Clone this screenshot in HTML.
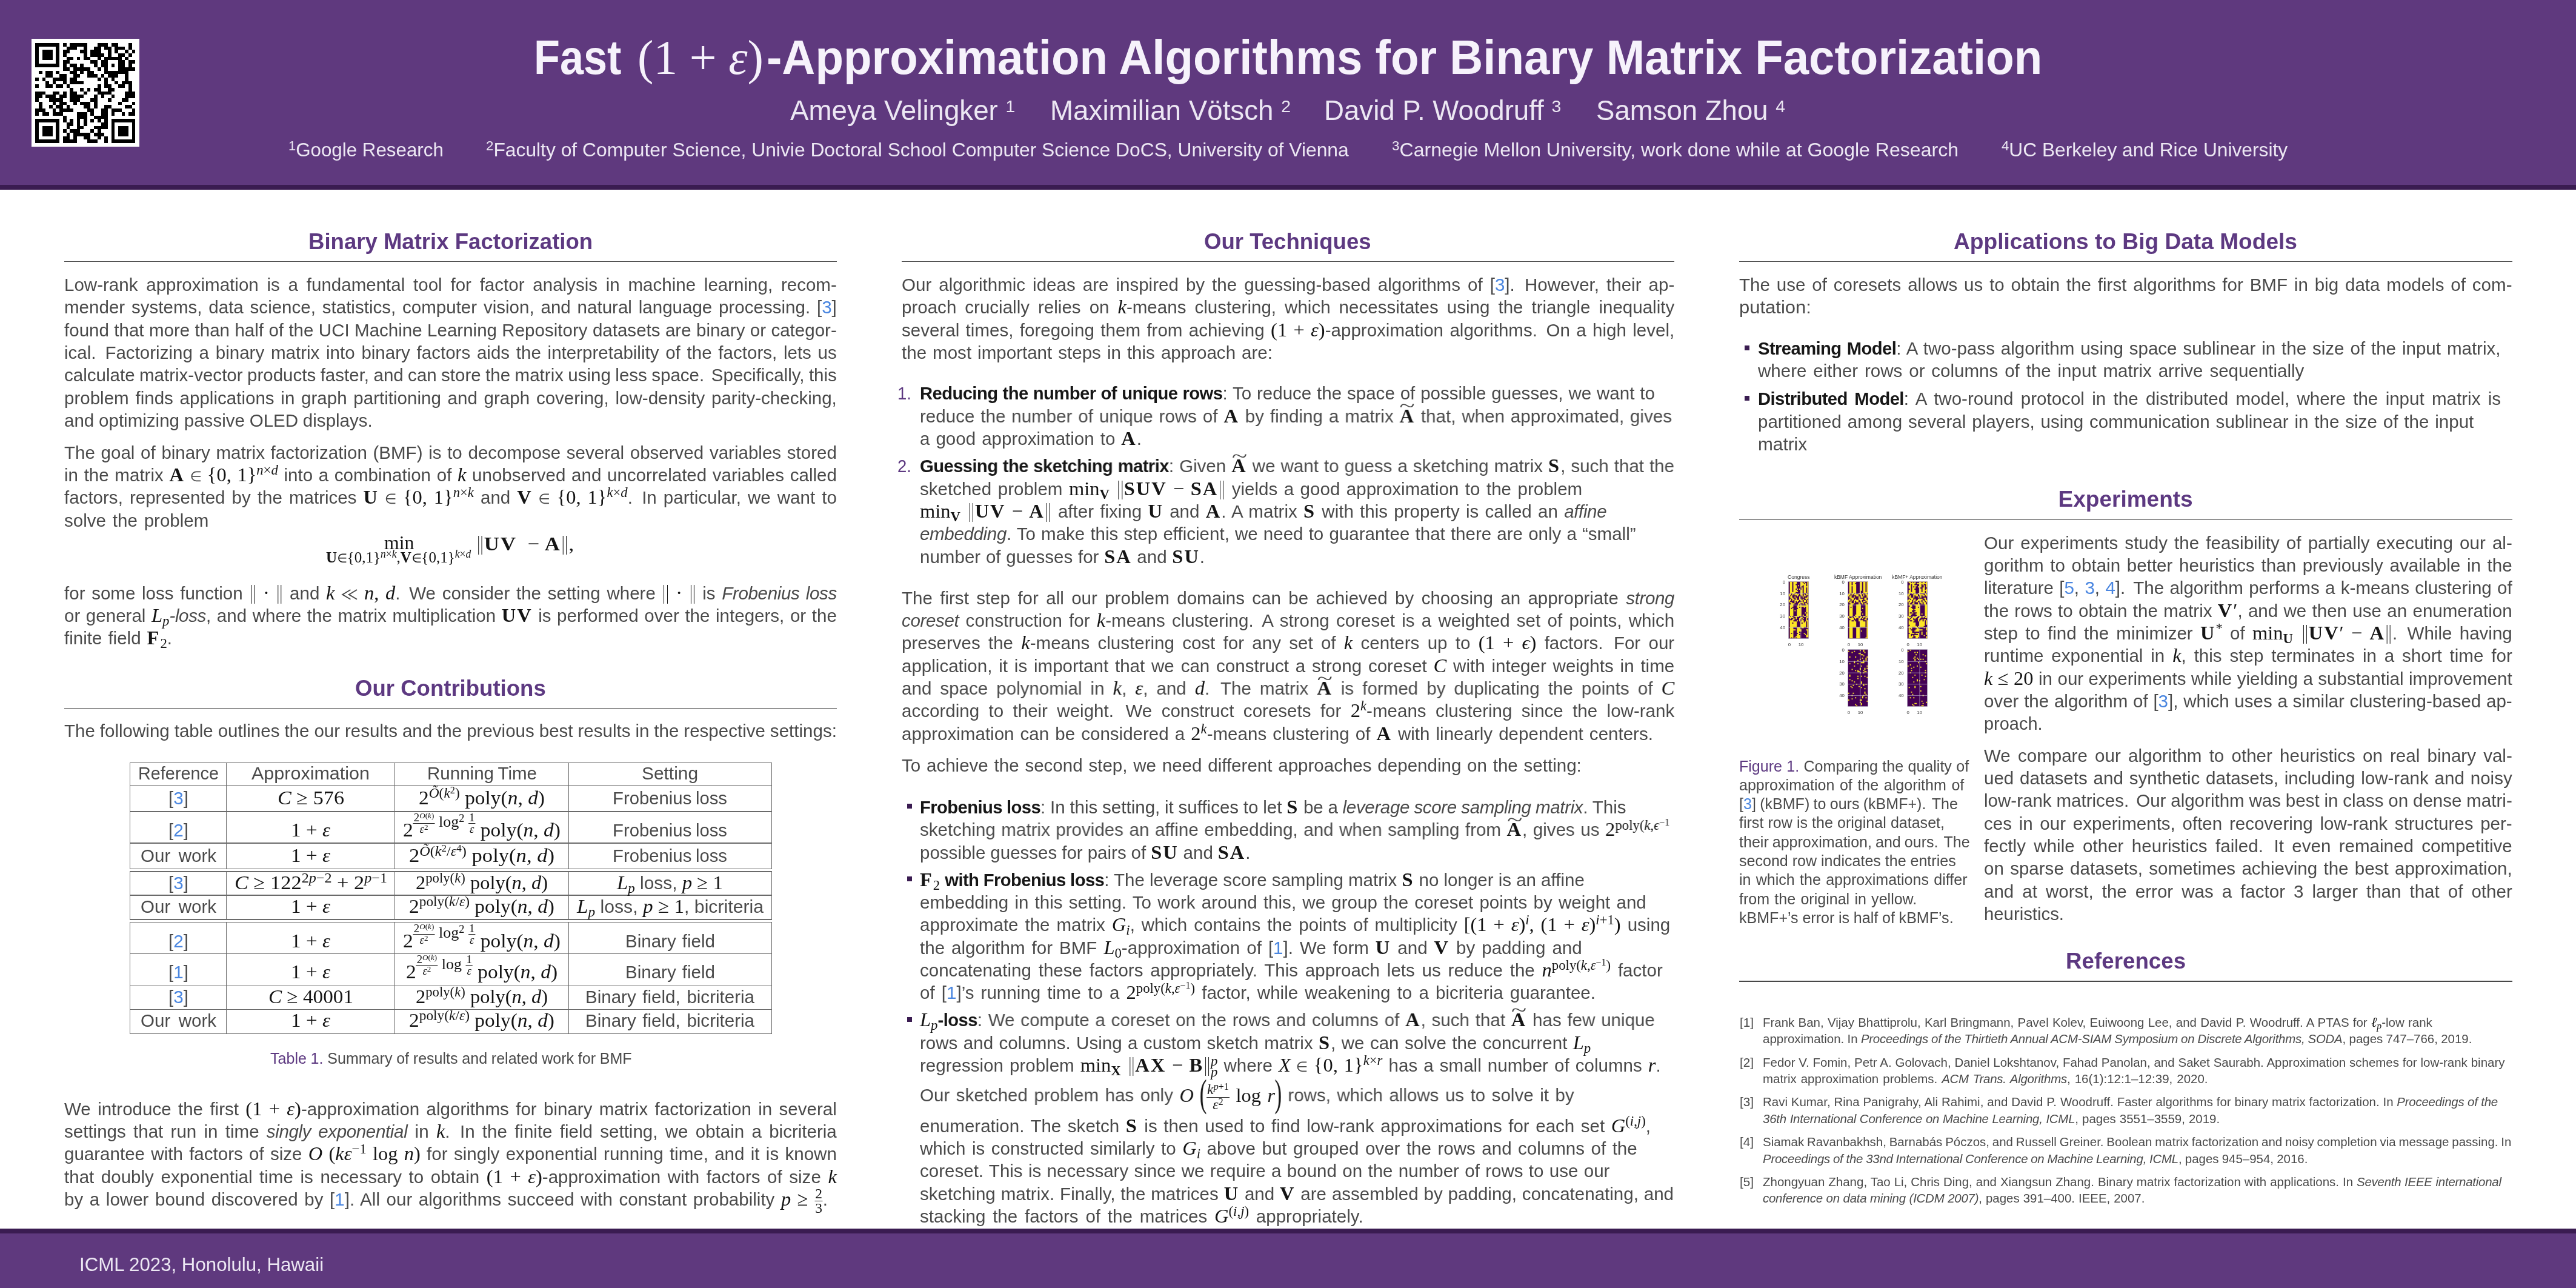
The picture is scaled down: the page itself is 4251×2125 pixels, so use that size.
<!DOCTYPE html>
<html><head><meta charset="utf-8"><title>Fast (1+ε)-Approximation Algorithms for Binary Matrix Factorization</title>
<style>
html,body{margin:0;padding:0}
body{width:4251px;height:2125px;position:relative;overflow:hidden;background:#fff;font-family:"Liberation Sans",sans-serif;color:#4a4a4a}
.l{position:absolute;white-space:nowrap;line-height:40px;height:40px}
.l>span{display:inline-block;transform-origin:0 50%;white-space:nowrap}
.b{font-size:29.6px}
.c{font-size:25.1px}
.r{font-size:20.5px}
.h{font-size:37px;font-weight:bold;color:#5d3981}
.tt{font-size:80px;font-weight:bold;color:#f6f2fb;line-height:90px;height:90px}
.au{font-size:46px;color:#ece7f3;line-height:60px;height:60px}
.af{font-size:31.5px;color:#ece7f3}
.ft{font-size:32px;color:#ece7f3}
.m,i.v,b.v{font-family:"Liberation Serif",serif;font-size:110%}
.b .m,.b i.v,.b b.v,.c .m,.r .m{color:#141414}
.m i,.m b{font-family:"Liberation Serif",serif}
i.s{font-style:italic;letter-spacing:-0.012em}
b{color:#161616}
a{color:#4a86e0}
.p{color:#5d3981}
sup{vertical-align:0.47em;font-size:70%;line-height:0}
sub{vertical-align:-0.27em;font-size:70%;line-height:0}
.fr{display:inline-block;vertical-align:middle;text-align:center;font-size:72%;line-height:1.0}
.fr>span{display:block;padding:0 1px}
.fr>span:first-child{border-bottom:1.3px solid currentColor}
.fr sup{vertical-align:0.42em}
.ti{position:relative;display:inline-block}
.ti>u{position:absolute;left:0.1em;top:-0.5em;transform:scaleX(1.45);transform-origin:40% 50%;text-decoration:none;font-family:"Liberation Serif",serif;font-weight:normal;font-size:110%}
svg.sy{display:inline-block;vertical-align:-0.02em;overflow:visible}
.hr{position:absolute;height:1.3px;background:#484848}
.bx{position:absolute}
.bp{display:inline-block;width:0;height:0}
#pg{position:absolute;left:0;top:0;width:4251px;height:2125px;will-change:transform}
s{display:inline-block;width:.14em;text-decoration:none}
b{font-size:99%;letter-spacing:-0.6px}
b.v,.m b{font-size:110%;letter-spacing:0.06em}
.m b{font-size:100%}
.nb{display:inline-block;width:.13em;height:.96em;border-left:1.6px solid #161616;border-right:1.6px solid #161616;vertical-align:-0.23em;margin:0 .09em;box-sizing:content-box}
</style></head>
<body>
<div id="pg">
<div class="bx" style="left:0;top:0;width:4251px;height:305px;background:#5f397e"></div>
<div class="bx" style="left:0;top:305px;width:4251px;height:8px;background:#3a1c51"></div>
<div class="bx" style="left:0;top:2026.5px;width:4251px;height:8.5px;background:#3a1c51"></div>
<div class="bx" style="left:0;top:2035px;width:4251px;height:90px;background:#5f397e"></div>
<svg style="position:absolute;left:52px;top:64px" width="178" height="178" viewBox="0 0 178 178"><rect width="178" height="178" fill="#fff"/><path transform="translate(6.3,6.95) scale(5.6950)" d="M0,0h7v1h-7zM8,0h1v1h-1zM10,0h5v1h-5zM18,0h3v1h-3zM22,0h2v1h-2zM27,0h1v1h-1zM0,1h1v1h-1zM6,1h1v1h-1zM9,1h3v1h-3zM14,1h1v1h-1zM17,1h2v1h-2zM20,1h2v1h-2zM23,1h3v1h-3zM27,1h1v1h-1zM0,2h1v1h-1zM2,2h3v1h-3zM6,2h1v1h-1zM8,2h2v1h-2zM13,2h2v1h-2zM16,2h3v1h-3zM21,2h1v1h-1zM23,2h1v1h-1zM26,2h1v1h-1zM28,2h1v1h-1zM0,3h1v1h-1zM2,3h3v1h-3zM6,3h1v1h-1zM8,3h1v1h-1zM14,3h1v1h-1zM16,3h4v1h-4zM21,3h1v1h-1zM24,3h2v1h-2zM27,3h1v1h-1zM0,4h1v1h-1zM2,4h3v1h-3zM6,4h1v1h-1zM9,4h2v1h-2zM12,4h1v1h-1zM14,4h2v1h-2zM18,4h1v1h-1zM20,4h5v1h-5zM26,4h1v1h-1zM0,5h1v1h-1zM6,5h1v1h-1zM8,5h2v1h-2zM16,5h2v1h-2zM19,5h2v1h-2zM24,5h2v1h-2zM27,5h2v1h-2zM0,6h7v1h-7zM8,6h1v1h-1zM10,6h2v1h-2zM13,6h1v1h-1zM17,6h1v1h-1zM19,6h2v1h-2zM22,6h1v1h-1zM24,6h2v1h-2zM27,6h1v1h-1zM8,7h2v1h-2zM11,7h5v1h-5zM18,7h1v1h-1zM20,7h1v1h-1zM24,7h5v1h-5zM1,8h1v1h-1zM3,8h2v1h-2zM6,8h1v1h-1zM10,8h2v1h-2zM13,8h1v1h-1zM15,8h2v1h-2zM20,8h7v1h-7zM3,9h2v1h-2zM7,9h2v1h-2zM11,9h2v1h-2zM15,9h3v1h-3zM19,9h1v1h-1zM21,9h3v1h-3zM26,9h1v1h-1zM0,10h1v1h-1zM2,10h1v1h-1zM5,10h4v1h-4zM10,10h2v1h-2zM18,10h1v1h-1zM20,10h1v1h-1zM22,10h1v1h-1zM26,10h1v1h-1zM3,11h1v1h-1zM5,11h1v1h-1zM8,11h1v1h-1zM10,11h4v1h-4zM20,11h1v1h-1zM23,11h1v1h-1zM25,11h3v1h-3zM0,12h1v1h-1zM3,12h2v1h-2zM6,12h2v1h-2zM9,12h1v1h-1zM18,12h1v1h-1zM20,12h2v1h-2zM24,12h2v1h-2zM27,12h1v1h-1zM10,13h1v1h-1zM13,13h1v1h-1zM15,13h1v1h-1zM17,13h2v1h-2zM21,13h2v1h-2zM27,13h1v1h-1zM0,14h3v1h-3zM5,14h2v1h-2zM8,14h1v1h-1zM10,14h2v1h-2zM14,14h1v1h-1zM18,14h4v1h-4zM26,14h3v1h-3zM0,15h2v1h-2zM3,15h3v1h-3zM7,15h2v1h-2zM10,15h4v1h-4zM17,15h1v1h-1zM19,15h1v1h-1zM22,15h1v1h-1zM26,15h3v1h-3zM0,16h1v1h-1zM4,16h4v1h-4zM10,16h3v1h-3zM16,16h2v1h-2zM21,16h1v1h-1zM25,16h2v1h-2zM1,17h1v1h-1zM5,17h1v1h-1zM7,17h2v1h-2zM11,17h1v1h-1zM13,17h3v1h-3zM17,17h1v1h-1zM24,17h1v1h-1zM28,17h1v1h-1zM1,18h1v1h-1zM4,18h1v1h-1zM6,18h2v1h-2zM9,18h1v1h-1zM14,18h2v1h-2zM17,18h1v1h-1zM20,18h2v1h-2zM26,18h2v1h-2zM0,19h3v1h-3zM5,19h1v1h-1zM7,19h4v1h-4zM15,19h2v1h-2zM19,19h2v1h-2zM22,19h3v1h-3zM28,19h1v1h-1zM0,20h1v1h-1zM2,20h2v1h-2zM5,20h3v1h-3zM12,20h3v1h-3zM16,20h1v1h-1zM19,20h2v1h-2zM22,20h1v1h-1zM25,20h1v1h-1zM27,20h2v1h-2zM8,21h1v1h-1zM12,21h3v1h-3zM17,21h4v1h-4zM0,22h7v1h-7zM8,22h1v1h-1zM10,22h1v1h-1zM12,22h1v1h-1zM14,22h1v1h-1zM16,22h1v1h-1zM18,22h1v1h-1zM20,22h1v1h-1zM22,22h7v1h-7zM0,23h1v1h-1zM6,23h1v1h-1zM9,23h2v1h-2zM12,23h1v1h-1zM14,23h1v1h-1zM19,23h2v1h-2zM22,23h1v1h-1zM28,23h1v1h-1zM0,24h1v1h-1zM2,24h3v1h-3zM6,24h1v1h-1zM9,24h1v1h-1zM12,24h2v1h-2zM17,24h4v1h-4zM22,24h1v1h-1zM24,24h3v1h-3zM28,24h1v1h-1zM0,25h1v1h-1zM2,25h3v1h-3zM6,25h1v1h-1zM8,25h1v1h-1zM10,25h3v1h-3zM16,25h1v1h-1zM18,25h1v1h-1zM22,25h1v1h-1zM24,25h3v1h-3zM28,25h1v1h-1zM0,26h1v1h-1zM2,26h3v1h-3zM6,26h1v1h-1zM9,26h1v1h-1zM11,26h5v1h-5zM17,26h3v1h-3zM22,26h1v1h-1zM24,26h3v1h-3zM28,26h1v1h-1zM0,27h1v1h-1zM6,27h1v1h-1zM8,27h2v1h-2zM11,27h1v1h-1zM14,27h2v1h-2zM18,27h1v1h-1zM20,27h1v1h-1zM22,27h1v1h-1zM28,27h1v1h-1zM0,28h7v1h-7zM8,28h4v1h-4zM15,28h3v1h-3zM20,28h1v1h-1zM22,28h7v1h-7z" fill="#000" shape-rendering="crispEdges"/></svg>
<div class="hr" style="left:105.9px;top:431.1px;width:1274.8px"></div>
<div class="hr" style="left:105.9px;top:1167.8px;width:1274.8px"></div>
<div class="bx" style="left:214.04999999999998px;top:1257.75px;width:1059.9px;height:1.2px;background:#6a6a6a"></div>
<div class="bx" style="left:214.04999999999998px;top:1295.25px;width:1059.9px;height:1.2px;background:#6a6a6a"></div>
<div class="bx" style="left:214.04999999999998px;top:1338.35px;width:1059.9px;height:1.2px;background:#6a6a6a"></div>
<div class="bx" style="left:214.04999999999998px;top:1390.35px;width:1059.9px;height:1.2px;background:#6a6a6a"></div>
<div class="bx" style="left:214.04999999999998px;top:1433.05px;width:1059.9px;height:1.2px;background:#6a6a6a"></div>
<div class="bx" style="left:214.05px;top:1257.75px;width:1.2px;height:176.5px;background:#6a6a6a"></div>
<div class="bx" style="left:372.75px;top:1257.75px;width:1.2px;height:176.5px;background:#6a6a6a"></div>
<div class="bx" style="left:651.05px;top:1257.75px;width:1.2px;height:176.5px;background:#6a6a6a"></div>
<div class="bx" style="left:937.65px;top:1257.75px;width:1.2px;height:176.5px;background:#6a6a6a"></div>
<div class="bx" style="left:1272.65px;top:1257.75px;width:1.2px;height:176.5px;background:#6a6a6a"></div>
<div class="bx" style="left:214.04999999999998px;top:1437.35px;width:1059.9px;height:1.2px;background:#6a6a6a"></div>
<div class="bx" style="left:214.04999999999998px;top:1476.35px;width:1059.9px;height:1.2px;background:#6a6a6a"></div>
<div class="bx" style="left:214.04999999999998px;top:1516.35px;width:1059.9px;height:1.2px;background:#6a6a6a"></div>
<div class="bx" style="left:214.05px;top:1437.35px;width:1.2px;height:80.2px;background:#6a6a6a"></div>
<div class="bx" style="left:372.75px;top:1437.35px;width:1.2px;height:80.2px;background:#6a6a6a"></div>
<div class="bx" style="left:651.05px;top:1437.35px;width:1.2px;height:80.2px;background:#6a6a6a"></div>
<div class="bx" style="left:937.65px;top:1437.35px;width:1.2px;height:80.2px;background:#6a6a6a"></div>
<div class="bx" style="left:1272.65px;top:1437.35px;width:1.2px;height:80.2px;background:#6a6a6a"></div>
<div class="bx" style="left:214.04999999999998px;top:1520.55px;width:1059.9px;height:1.2px;background:#6a6a6a"></div>
<div class="bx" style="left:214.04999999999998px;top:1572.55px;width:1059.9px;height:1.2px;background:#6a6a6a"></div>
<div class="bx" style="left:214.04999999999998px;top:1625.65px;width:1059.9px;height:1.2px;background:#6a6a6a"></div>
<div class="bx" style="left:214.04999999999998px;top:1665.15px;width:1059.9px;height:1.2px;background:#6a6a6a"></div>
<div class="bx" style="left:214.04999999999998px;top:1704.65px;width:1059.9px;height:1.2px;background:#6a6a6a"></div>
<div class="bx" style="left:214.05px;top:1520.55px;width:1.2px;height:185.3px;background:#6a6a6a"></div>
<div class="bx" style="left:372.75px;top:1520.55px;width:1.2px;height:185.3px;background:#6a6a6a"></div>
<div class="bx" style="left:651.05px;top:1520.55px;width:1.2px;height:185.3px;background:#6a6a6a"></div>
<div class="bx" style="left:937.65px;top:1520.55px;width:1.2px;height:185.3px;background:#6a6a6a"></div>
<div class="bx" style="left:1272.65px;top:1520.55px;width:1.2px;height:185.3px;background:#6a6a6a"></div>
<div class="hr" style="left:1487.8px;top:431.1px;width:1275.2px"></div>
<div class="bx" style="left:1496.8px;top:1325.9px;width:8px;height:8.1px;background:#3a1c51"></div>
<div class="bx" style="left:1496.8px;top:1445.9px;width:8px;height:8.1px;background:#3a1c51"></div>
<div class="bx" style="left:1496.8px;top:1677.8px;width:8px;height:8.1px;background:#3a1c51"></div>
<div class="hr" style="left:2870.3px;top:431.1px;width:1275.4px"></div>
<div class="bx" style="left:2878.8px;top:569.5px;width:8px;height:8.1px;background:#3a1c51"></div>
<div class="bx" style="left:2878.8px;top:652.8px;width:8px;height:8.1px;background:#3a1c51"></div>
<div class="hr" style="left:2870.3px;top:856.5px;width:1275.4px"></div>
<div class="hr" style="left:2870.3px;top:1618.4px;width:1275.4px"></div>
<svg style="position:absolute;left:2951.2px;top:959.0px" width="34.1" height="95.1" viewBox="-0.42 -0.43 17.84 50.86" preserveAspectRatio="none"><rect x="-0.42" y="-0.43" width="17.84" height="50.86" fill="#ccccd6"/><rect width="17" height="50" fill="#440154"/><path d="M1,0h1v1h-1zM2,0h1v1h-1zM4,0h1v1h-1zM5,0h1v1h-1zM6,0h1v1h-1zM10,0h1v1h-1zM11,0h1v1h-1zM13,0h1v1h-1zM16,0h1v1h-1zM1,1h1v1h-1zM2,1h1v1h-1zM4,1h1v1h-1zM5,1h1v1h-1zM6,1h1v1h-1zM10,1h1v1h-1zM11,1h1v1h-1zM12,1h1v1h-1zM14,1h1v1h-1zM16,1h1v1h-1zM1,2h1v1h-1zM2,2h1v1h-1zM4,2h1v1h-1zM5,2h1v1h-1zM10,2h1v1h-1zM11,2h1v1h-1zM12,2h1v1h-1zM13,2h1v1h-1zM14,2h1v1h-1zM16,2h1v1h-1zM1,3h1v1h-1zM2,3h1v1h-1zM4,3h1v1h-1zM5,3h1v1h-1zM6,3h1v1h-1zM8,3h1v1h-1zM10,3h1v1h-1zM11,3h1v1h-1zM13,3h1v1h-1zM14,3h1v1h-1zM16,3h1v1h-1zM1,4h1v1h-1zM2,4h1v1h-1zM4,4h1v1h-1zM5,4h1v1h-1zM6,4h1v1h-1zM10,4h1v1h-1zM13,4h1v1h-1zM14,4h1v1h-1zM15,4h1v1h-1zM16,4h1v1h-1zM1,5h1v1h-1zM2,5h1v1h-1zM4,5h1v1h-1zM5,5h1v1h-1zM6,5h1v1h-1zM11,5h1v1h-1zM13,5h1v1h-1zM14,5h1v1h-1zM16,5h1v1h-1zM1,6h1v1h-1zM2,6h1v1h-1zM4,6h1v1h-1zM5,6h1v1h-1zM7,6h1v1h-1zM9,6h1v1h-1zM11,6h1v1h-1zM13,6h1v1h-1zM14,6h1v1h-1zM16,6h1v1h-1zM1,7h1v1h-1zM2,7h1v1h-1zM4,7h1v1h-1zM5,7h1v1h-1zM6,7h1v1h-1zM10,7h1v1h-1zM11,7h1v1h-1zM13,7h1v1h-1zM14,7h1v1h-1zM16,7h1v1h-1zM1,8h1v1h-1zM2,8h1v1h-1zM4,8h1v1h-1zM5,8h1v1h-1zM6,8h1v1h-1zM7,8h1v1h-1zM10,8h1v1h-1zM11,8h1v1h-1zM13,8h1v1h-1zM14,8h1v1h-1zM16,8h1v1h-1zM1,9h1v1h-1zM2,9h1v1h-1zM3,9h1v1h-1zM4,9h1v1h-1zM5,9h1v1h-1zM10,9h1v1h-1zM11,9h1v1h-1zM13,9h1v1h-1zM14,9h1v1h-1zM16,9h1v1h-1zM1,10h1v1h-1zM3,10h1v1h-1zM4,10h1v1h-1zM6,10h1v1h-1zM10,10h1v1h-1zM11,10h1v1h-1zM15,10h1v1h-1zM0,11h1v1h-1zM1,11h1v1h-1zM3,11h1v1h-1zM5,11h1v1h-1zM6,11h1v1h-1zM7,11h1v1h-1zM8,11h1v1h-1zM10,11h1v1h-1zM11,11h1v1h-1zM13,11h1v1h-1zM15,11h1v1h-1zM16,11h1v1h-1zM0,12h1v1h-1zM2,12h1v1h-1zM7,12h1v1h-1zM11,12h1v1h-1zM13,12h1v1h-1zM14,12h1v1h-1zM1,13h1v1h-1zM2,13h1v1h-1zM5,13h1v1h-1zM9,13h1v1h-1zM12,13h1v1h-1zM16,13h1v1h-1zM2,14h1v1h-1zM3,14h1v1h-1zM6,14h1v1h-1zM9,14h1v1h-1zM14,14h1v1h-1zM15,14h1v1h-1zM16,14h1v1h-1zM1,15h1v1h-1zM3,15h1v1h-1zM4,15h1v1h-1zM6,15h1v1h-1zM9,15h1v1h-1zM10,15h1v1h-1zM12,15h1v1h-1zM15,15h1v1h-1zM0,16h1v1h-1zM1,16h1v1h-1zM3,16h1v1h-1zM5,16h1v1h-1zM6,16h1v1h-1zM7,16h1v1h-1zM8,16h1v1h-1zM10,16h1v1h-1zM11,16h1v1h-1zM13,16h1v1h-1zM14,16h1v1h-1zM16,16h1v1h-1zM0,17h1v1h-1zM5,17h1v1h-1zM7,17h1v1h-1zM11,17h1v1h-1zM13,17h1v1h-1zM14,17h1v1h-1zM16,17h1v1h-1zM1,18h1v1h-1zM2,18h1v1h-1zM5,18h1v1h-1zM9,18h1v1h-1zM10,18h1v1h-1zM11,18h1v1h-1zM12,18h1v1h-1zM16,18h1v1h-1zM2,19h1v1h-1zM3,19h1v1h-1zM4,19h1v1h-1zM8,19h1v1h-1zM9,19h1v1h-1zM12,19h1v1h-1zM14,19h1v1h-1zM15,19h1v1h-1zM1,20h1v1h-1zM2,20h1v1h-1zM3,20h1v1h-1zM8,20h1v1h-1zM10,20h1v1h-1zM15,20h1v1h-1zM16,20h1v1h-1zM1,21h1v1h-1zM2,21h1v1h-1zM3,21h1v1h-1zM7,21h1v1h-1zM8,21h1v1h-1zM9,21h1v1h-1zM10,21h1v1h-1zM11,21h1v1h-1zM12,21h1v1h-1zM13,21h1v1h-1zM14,21h1v1h-1zM15,21h1v1h-1zM16,21h1v1h-1zM1,22h1v1h-1zM2,22h1v1h-1zM7,22h1v1h-1zM8,22h1v1h-1zM10,22h1v1h-1zM13,22h1v1h-1zM15,22h1v1h-1zM16,22h1v1h-1zM1,23h1v1h-1zM3,23h1v1h-1zM8,23h1v1h-1zM9,23h1v1h-1zM10,23h1v1h-1zM15,23h1v1h-1zM16,23h1v1h-1zM1,24h1v1h-1zM2,24h1v1h-1zM3,24h1v1h-1zM7,24h1v1h-1zM8,24h1v1h-1zM9,24h1v1h-1zM10,24h1v1h-1zM15,24h1v1h-1zM16,24h1v1h-1zM1,25h1v1h-1zM2,25h1v1h-1zM3,25h1v1h-1zM5,25h1v1h-1zM7,25h1v1h-1zM8,25h1v1h-1zM9,25h1v1h-1zM10,25h1v1h-1zM15,25h1v1h-1zM16,25h1v1h-1zM1,26h1v1h-1zM2,26h1v1h-1zM3,26h1v1h-1zM7,26h1v1h-1zM8,26h1v1h-1zM9,26h1v1h-1zM10,26h1v1h-1zM15,26h1v1h-1zM16,26h1v1h-1zM1,27h1v1h-1zM2,27h1v1h-1zM3,27h1v1h-1zM7,27h1v1h-1zM8,27h1v1h-1zM9,27h1v1h-1zM10,27h1v1h-1zM14,27h1v1h-1zM16,27h1v1h-1zM1,28h1v1h-1zM2,28h1v1h-1zM3,28h1v1h-1zM7,28h1v1h-1zM8,28h1v1h-1zM9,28h1v1h-1zM10,28h1v1h-1zM15,28h1v1h-1zM16,28h1v1h-1zM1,29h1v1h-1zM2,29h1v1h-1zM3,29h1v1h-1zM7,29h1v1h-1zM8,29h1v1h-1zM9,29h1v1h-1zM10,29h1v1h-1zM12,29h1v1h-1zM15,29h1v1h-1zM16,29h1v1h-1zM0,30h1v1h-1zM2,30h1v1h-1zM5,30h1v1h-1zM6,30h1v1h-1zM7,30h1v1h-1zM8,30h1v1h-1zM13,30h1v1h-1zM14,30h1v1h-1zM16,30h1v1h-1zM0,31h1v1h-1zM1,31h1v1h-1zM2,31h1v1h-1zM3,31h1v1h-1zM6,31h1v1h-1zM10,31h1v1h-1zM11,31h1v1h-1zM15,31h1v1h-1zM16,31h1v1h-1zM1,32h1v1h-1zM4,32h1v1h-1zM6,32h1v1h-1zM9,32h1v1h-1zM10,32h1v1h-1zM12,32h1v1h-1zM15,32h1v1h-1zM3,33h1v1h-1zM4,33h1v1h-1zM9,33h1v1h-1zM11,33h1v1h-1zM15,33h1v1h-1zM1,34h1v1h-1zM2,34h1v1h-1zM3,34h1v1h-1zM7,34h1v1h-1zM9,34h1v1h-1zM11,34h1v1h-1zM12,34h1v1h-1zM15,34h1v1h-1zM16,34h1v1h-1zM1,35h1v1h-1zM2,35h1v1h-1zM3,35h1v1h-1zM4,35h1v1h-1zM5,35h1v1h-1zM6,35h1v1h-1zM10,35h1v1h-1zM11,35h1v1h-1zM12,35h1v1h-1zM14,35h1v1h-1zM16,35h1v1h-1zM1,36h1v1h-1zM2,36h1v1h-1zM4,36h1v1h-1zM5,36h1v1h-1zM6,36h1v1h-1zM10,36h1v1h-1zM12,36h1v1h-1zM13,36h1v1h-1zM14,36h1v1h-1zM16,36h1v1h-1zM1,37h1v1h-1zM2,37h1v1h-1zM3,37h1v1h-1zM4,37h1v1h-1zM5,37h1v1h-1zM6,37h1v1h-1zM10,37h1v1h-1zM11,37h1v1h-1zM12,37h1v1h-1zM13,37h1v1h-1zM14,37h1v1h-1zM16,37h1v1h-1zM1,38h1v1h-1zM2,38h1v1h-1zM3,38h1v1h-1zM4,38h1v1h-1zM5,38h1v1h-1zM6,38h1v1h-1zM10,38h1v1h-1zM11,38h1v1h-1zM12,38h1v1h-1zM13,38h1v1h-1zM14,38h1v1h-1zM16,38h1v1h-1zM1,39h1v1h-1zM2,39h1v1h-1zM3,39h1v1h-1zM4,39h1v1h-1zM5,39h1v1h-1zM6,39h1v1h-1zM10,39h1v1h-1zM11,39h1v1h-1zM12,39h1v1h-1zM13,39h1v1h-1zM14,39h1v1h-1zM16,39h1v1h-1zM1,40h1v1h-1zM2,40h1v1h-1zM3,40h1v1h-1zM7,40h1v1h-1zM8,40h1v1h-1zM9,40h1v1h-1zM11,40h1v1h-1zM12,40h1v1h-1zM16,40h1v1h-1zM1,41h1v1h-1zM2,41h1v1h-1zM3,41h1v1h-1zM7,41h1v1h-1zM8,41h1v1h-1zM9,41h1v1h-1zM1,42h1v1h-1zM2,42h1v1h-1zM3,42h1v1h-1zM4,42h1v1h-1zM5,42h1v1h-1zM7,42h1v1h-1zM8,42h1v1h-1zM9,42h1v1h-1zM10,42h1v1h-1zM15,42h1v1h-1zM16,42h1v1h-1zM1,43h1v1h-1zM2,43h1v1h-1zM3,43h1v1h-1zM7,43h1v1h-1zM8,43h1v1h-1zM9,43h1v1h-1zM10,43h1v1h-1zM16,43h1v1h-1zM1,44h1v1h-1zM2,44h1v1h-1zM3,44h1v1h-1zM7,44h1v1h-1zM8,44h1v1h-1zM16,44h1v1h-1zM1,45h1v1h-1zM3,45h1v1h-1zM8,45h1v1h-1zM9,45h1v1h-1zM13,45h1v1h-1zM16,45h1v1h-1zM1,46h1v1h-1zM2,46h1v1h-1zM3,46h1v1h-1zM7,46h1v1h-1zM8,46h1v1h-1zM14,46h1v1h-1zM16,46h1v1h-1zM1,47h1v1h-1zM2,47h1v1h-1zM3,47h1v1h-1zM7,47h1v1h-1zM8,47h1v1h-1zM9,47h1v1h-1zM15,47h1v1h-1zM16,47h1v1h-1zM1,48h1v1h-1zM2,48h1v1h-1zM3,48h1v1h-1zM6,48h1v1h-1zM7,48h1v1h-1zM8,48h1v1h-1zM9,48h1v1h-1zM15,48h1v1h-1zM16,48h1v1h-1zM1,49h1v1h-1zM3,49h1v1h-1zM5,49h1v1h-1zM7,49h1v1h-1zM8,49h1v1h-1zM9,49h1v1h-1z" fill="#fde725"/><path d="M0,10.5h17M0,20.5h17M0,30.5h17M0,40.5h17M10.5,0v50" stroke="#c9c4d6" stroke-width=".3" fill="none"/></svg>
<svg style="position:absolute;left:3049.1px;top:959.0px" width="34.1" height="95.1" viewBox="-0.42 -0.43 17.84 50.86" preserveAspectRatio="none"><rect x="-0.42" y="-0.43" width="17.84" height="50.86" fill="#ccccd6"/><rect width="17" height="50" fill="#440154"/><path d="M1,0h1v1h-1zM2,0h1v1h-1zM4,0h1v1h-1zM5,0h1v1h-1zM6,0h1v1h-1zM10,0h1v1h-1zM11,0h1v1h-1zM13,0h1v1h-1zM14,0h1v1h-1zM16,0h1v1h-1zM1,1h1v1h-1zM2,1h1v1h-1zM4,1h1v1h-1zM5,1h1v1h-1zM10,1h1v1h-1zM11,1h1v1h-1zM13,1h1v1h-1zM14,1h1v1h-1zM16,1h1v1h-1zM1,2h1v1h-1zM2,2h1v1h-1zM4,2h1v1h-1zM5,2h1v1h-1zM6,2h1v1h-1zM10,2h1v1h-1zM11,2h1v1h-1zM13,2h1v1h-1zM14,2h1v1h-1zM16,2h1v1h-1zM1,3h1v1h-1zM2,3h1v1h-1zM3,3h1v1h-1zM4,3h1v1h-1zM5,3h1v1h-1zM6,3h1v1h-1zM10,3h1v1h-1zM11,3h1v1h-1zM13,3h1v1h-1zM14,3h1v1h-1zM16,3h1v1h-1zM1,4h1v1h-1zM2,4h1v1h-1zM4,4h1v1h-1zM5,4h1v1h-1zM6,4h1v1h-1zM10,4h1v1h-1zM11,4h1v1h-1zM13,4h1v1h-1zM14,4h1v1h-1zM16,4h1v1h-1zM1,5h1v1h-1zM2,5h1v1h-1zM4,5h1v1h-1zM5,5h1v1h-1zM6,5h1v1h-1zM10,5h1v1h-1zM11,5h1v1h-1zM13,5h1v1h-1zM14,5h1v1h-1zM16,5h1v1h-1zM1,6h1v1h-1zM2,6h1v1h-1zM4,6h1v1h-1zM5,6h1v1h-1zM6,6h1v1h-1zM10,6h1v1h-1zM11,6h1v1h-1zM13,6h1v1h-1zM14,6h1v1h-1zM16,6h1v1h-1zM1,7h1v1h-1zM2,7h1v1h-1zM4,7h1v1h-1zM5,7h1v1h-1zM6,7h1v1h-1zM10,7h1v1h-1zM11,7h1v1h-1zM13,7h1v1h-1zM14,7h1v1h-1zM16,7h1v1h-1zM1,8h1v1h-1zM2,8h1v1h-1zM4,8h1v1h-1zM5,8h1v1h-1zM6,8h1v1h-1zM10,8h1v1h-1zM13,8h1v1h-1zM14,8h1v1h-1zM16,8h1v1h-1zM1,9h1v1h-1zM2,9h1v1h-1zM4,9h1v1h-1zM5,9h1v1h-1zM6,9h1v1h-1zM10,9h1v1h-1zM13,9h1v1h-1zM14,9h1v1h-1zM15,9h1v1h-1zM16,9h1v1h-1zM1,10h1v1h-1zM3,10h1v1h-1zM4,10h1v1h-1zM6,10h1v1h-1zM9,10h1v1h-1zM10,10h1v1h-1zM12,10h1v1h-1zM15,10h1v1h-1zM0,11h1v1h-1zM1,11h1v1h-1zM3,11h1v1h-1zM5,11h1v1h-1zM6,11h1v1h-1zM7,11h1v1h-1zM8,11h1v1h-1zM10,11h1v1h-1zM11,11h1v1h-1zM13,11h1v1h-1zM15,11h1v1h-1zM16,11h1v1h-1zM0,12h1v1h-1zM2,12h1v1h-1zM7,12h1v1h-1zM8,12h1v1h-1zM11,12h1v1h-1zM13,12h1v1h-1zM16,12h1v1h-1zM1,13h1v1h-1zM2,13h1v1h-1zM5,13h1v1h-1zM9,13h1v1h-1zM11,13h1v1h-1zM12,13h1v1h-1zM16,13h1v1h-1zM2,14h1v1h-1zM3,14h1v1h-1zM4,14h1v1h-1zM9,14h1v1h-1zM14,14h1v1h-1zM15,14h1v1h-1zM1,15h1v1h-1zM3,15h1v1h-1zM4,15h1v1h-1zM6,15h1v1h-1zM9,15h1v1h-1zM10,15h1v1h-1zM11,15h1v1h-1zM12,15h1v1h-1zM14,15h1v1h-1zM15,15h1v1h-1zM0,16h1v1h-1zM1,16h1v1h-1zM3,16h1v1h-1zM5,16h1v1h-1zM6,16h1v1h-1zM7,16h1v1h-1zM8,16h1v1h-1zM10,16h1v1h-1zM11,16h1v1h-1zM15,16h1v1h-1zM16,16h1v1h-1zM0,17h1v1h-1zM2,17h1v1h-1zM5,17h1v1h-1zM7,17h1v1h-1zM8,17h1v1h-1zM11,17h1v1h-1zM13,17h1v1h-1zM14,17h1v1h-1zM16,17h1v1h-1zM1,18h1v1h-1zM2,18h1v1h-1zM5,18h1v1h-1zM9,18h1v1h-1zM11,18h1v1h-1zM12,18h1v1h-1zM16,18h1v1h-1zM2,19h1v1h-1zM3,19h1v1h-1zM4,19h1v1h-1zM9,19h1v1h-1zM12,19h1v1h-1zM14,19h1v1h-1zM15,19h1v1h-1zM1,20h1v1h-1zM2,20h1v1h-1zM3,20h1v1h-1zM7,20h1v1h-1zM8,20h1v1h-1zM9,20h1v1h-1zM10,20h1v1h-1zM15,20h1v1h-1zM16,20h1v1h-1zM1,21h1v1h-1zM2,21h1v1h-1zM3,21h1v1h-1zM7,21h1v1h-1zM8,21h1v1h-1zM9,21h1v1h-1zM10,21h1v1h-1zM15,21h1v1h-1zM16,21h1v1h-1zM1,22h1v1h-1zM3,22h1v1h-1zM7,22h1v1h-1zM8,22h1v1h-1zM9,22h1v1h-1zM10,22h1v1h-1zM15,22h1v1h-1zM16,22h1v1h-1zM1,23h1v1h-1zM2,23h1v1h-1zM3,23h1v1h-1zM7,23h1v1h-1zM8,23h1v1h-1zM9,23h1v1h-1zM10,23h1v1h-1zM12,23h1v1h-1zM15,23h1v1h-1zM16,23h1v1h-1zM1,24h1v1h-1zM2,24h1v1h-1zM3,24h1v1h-1zM7,24h1v1h-1zM8,24h1v1h-1zM9,24h1v1h-1zM10,24h1v1h-1zM15,24h1v1h-1zM16,24h1v1h-1zM1,25h1v1h-1zM2,25h1v1h-1zM3,25h1v1h-1zM7,25h1v1h-1zM8,25h1v1h-1zM9,25h1v1h-1zM10,25h1v1h-1zM15,25h1v1h-1zM16,25h1v1h-1zM1,26h1v1h-1zM2,26h1v1h-1zM3,26h1v1h-1zM7,26h1v1h-1zM8,26h1v1h-1zM9,26h1v1h-1zM10,26h1v1h-1zM11,26h1v1h-1zM15,26h1v1h-1zM16,26h1v1h-1zM1,27h1v1h-1zM2,27h1v1h-1zM3,27h1v1h-1zM7,27h1v1h-1zM8,27h1v1h-1zM9,27h1v1h-1zM10,27h1v1h-1zM15,27h1v1h-1zM16,27h1v1h-1zM1,28h1v1h-1zM2,28h1v1h-1zM3,28h1v1h-1zM7,28h1v1h-1zM8,28h1v1h-1zM9,28h1v1h-1zM10,28h1v1h-1zM12,28h1v1h-1zM15,28h1v1h-1zM16,28h1v1h-1zM1,29h1v1h-1zM2,29h1v1h-1zM3,29h1v1h-1zM6,29h1v1h-1zM7,29h1v1h-1zM8,29h1v1h-1zM9,29h1v1h-1zM10,29h1v1h-1zM15,29h1v1h-1zM16,29h1v1h-1zM0,30h1v1h-1zM2,30h1v1h-1zM5,30h1v1h-1zM7,30h1v1h-1zM8,30h1v1h-1zM11,30h1v1h-1zM13,30h1v1h-1zM14,30h1v1h-1zM16,30h1v1h-1zM0,31h1v1h-1zM3,31h1v1h-1zM5,31h1v1h-1zM6,31h1v1h-1zM7,31h1v1h-1zM8,31h1v1h-1zM10,31h1v1h-1zM11,31h1v1h-1zM13,31h1v1h-1zM15,31h1v1h-1zM16,31h1v1h-1zM1,32h1v1h-1zM2,32h1v1h-1zM3,32h1v1h-1zM4,32h1v1h-1zM6,32h1v1h-1zM9,32h1v1h-1zM10,32h1v1h-1zM12,32h1v1h-1zM15,32h1v1h-1zM2,33h1v1h-1zM3,33h1v1h-1zM4,33h1v1h-1zM9,33h1v1h-1zM14,33h1v1h-1zM15,33h1v1h-1zM1,34h1v1h-1zM2,34h1v1h-1zM5,34h1v1h-1zM9,34h1v1h-1zM10,34h1v1h-1zM11,34h1v1h-1zM12,34h1v1h-1zM16,34h1v1h-1zM1,35h1v1h-1zM2,35h1v1h-1zM3,35h1v1h-1zM4,35h1v1h-1zM5,35h1v1h-1zM6,35h1v1h-1zM10,35h1v1h-1zM11,35h1v1h-1zM12,35h1v1h-1zM13,35h1v1h-1zM14,35h1v1h-1zM16,35h1v1h-1zM1,36h1v1h-1zM2,36h1v1h-1zM3,36h1v1h-1zM4,36h1v1h-1zM5,36h1v1h-1zM6,36h1v1h-1zM10,36h1v1h-1zM11,36h1v1h-1zM12,36h1v1h-1zM13,36h1v1h-1zM14,36h1v1h-1zM16,36h1v1h-1zM1,37h1v1h-1zM2,37h1v1h-1zM3,37h1v1h-1zM4,37h1v1h-1zM5,37h1v1h-1zM6,37h1v1h-1zM10,37h1v1h-1zM11,37h1v1h-1zM12,37h1v1h-1zM13,37h1v1h-1zM14,37h1v1h-1zM16,37h1v1h-1zM1,38h1v1h-1zM2,38h1v1h-1zM3,38h1v1h-1zM4,38h1v1h-1zM5,38h1v1h-1zM6,38h1v1h-1zM10,38h1v1h-1zM11,38h1v1h-1zM12,38h1v1h-1zM13,38h1v1h-1zM14,38h1v1h-1zM16,38h1v1h-1zM1,39h1v1h-1zM2,39h1v1h-1zM3,39h1v1h-1zM4,39h1v1h-1zM5,39h1v1h-1zM6,39h1v1h-1zM10,39h1v1h-1zM11,39h1v1h-1zM12,39h1v1h-1zM13,39h1v1h-1zM14,39h1v1h-1zM16,39h1v1h-1zM1,40h1v1h-1zM2,40h1v1h-1zM3,40h1v1h-1zM7,40h1v1h-1zM8,40h1v1h-1zM9,40h1v1h-1zM16,40h1v1h-1zM1,41h1v1h-1zM2,41h1v1h-1zM3,41h1v1h-1zM7,41h1v1h-1zM8,41h1v1h-1zM9,41h1v1h-1zM16,41h1v1h-1zM1,42h1v1h-1zM2,42h1v1h-1zM3,42h1v1h-1zM7,42h1v1h-1zM8,42h1v1h-1zM9,42h1v1h-1zM16,42h1v1h-1zM1,43h1v1h-1zM2,43h1v1h-1zM3,43h1v1h-1zM7,43h1v1h-1zM8,43h1v1h-1zM9,43h1v1h-1zM11,43h1v1h-1zM16,43h1v1h-1zM1,44h1v1h-1zM2,44h1v1h-1zM3,44h1v1h-1zM7,44h1v1h-1zM8,44h1v1h-1zM9,44h1v1h-1zM16,44h1v1h-1zM1,45h1v1h-1zM2,45h1v1h-1zM3,45h1v1h-1zM7,45h1v1h-1zM8,45h1v1h-1zM9,45h1v1h-1zM16,45h1v1h-1zM1,46h1v1h-1zM2,46h1v1h-1zM3,46h1v1h-1zM7,46h1v1h-1zM8,46h1v1h-1zM9,46h1v1h-1zM16,46h1v1h-1zM1,47h1v1h-1zM2,47h1v1h-1zM3,47h1v1h-1zM7,47h1v1h-1zM8,47h1v1h-1zM9,47h1v1h-1zM16,47h1v1h-1zM1,48h1v1h-1zM2,48h1v1h-1zM3,48h1v1h-1zM7,48h1v1h-1zM8,48h1v1h-1zM9,48h1v1h-1zM16,48h1v1h-1zM1,49h1v1h-1zM2,49h1v1h-1zM3,49h1v1h-1zM7,49h1v1h-1zM8,49h1v1h-1zM9,49h1v1h-1zM15,49h1v1h-1zM16,49h1v1h-1z" fill="#fde725"/><path d="M0,10.5h17M0,20.5h17M0,30.5h17M0,40.5h17M10.5,0v50" stroke="#c9c4d6" stroke-width=".3" fill="none"/></svg>
<svg style="position:absolute;left:3146.7999999999997px;top:959.0px" width="34.1" height="95.1" viewBox="-0.42 -0.43 17.84 50.86" preserveAspectRatio="none"><rect x="-0.42" y="-0.43" width="17.84" height="50.86" fill="#ccccd6"/><rect width="17" height="50" fill="#440154"/><path d="M1,0h1v1h-1zM2,0h1v1h-1zM4,0h1v1h-1zM6,0h1v1h-1zM10,0h1v1h-1zM11,0h1v1h-1zM13,0h1v1h-1zM14,0h1v1h-1zM16,0h1v1h-1zM2,1h1v1h-1zM3,1h1v1h-1zM4,1h1v1h-1zM5,1h1v1h-1zM6,1h1v1h-1zM8,1h1v1h-1zM9,1h1v1h-1zM10,1h1v1h-1zM11,1h1v1h-1zM12,1h1v1h-1zM13,1h1v1h-1zM14,1h1v1h-1zM15,1h1v1h-1zM16,1h1v1h-1zM2,2h1v1h-1zM4,2h1v1h-1zM5,2h1v1h-1zM10,2h1v1h-1zM11,2h1v1h-1zM13,2h1v1h-1zM16,2h1v1h-1zM1,3h1v1h-1zM2,3h1v1h-1zM4,3h1v1h-1zM5,3h1v1h-1zM6,3h1v1h-1zM7,3h1v1h-1zM10,3h1v1h-1zM11,3h1v1h-1zM14,3h1v1h-1zM16,3h1v1h-1zM1,4h1v1h-1zM2,4h1v1h-1zM4,4h1v1h-1zM6,4h1v1h-1zM9,4h1v1h-1zM10,4h1v1h-1zM11,4h1v1h-1zM14,4h1v1h-1zM16,4h1v1h-1zM1,5h1v1h-1zM2,5h1v1h-1zM4,5h1v1h-1zM5,5h1v1h-1zM6,5h1v1h-1zM10,5h1v1h-1zM13,5h1v1h-1zM14,5h1v1h-1zM2,6h1v1h-1zM4,6h1v1h-1zM5,6h1v1h-1zM10,6h1v1h-1zM11,6h1v1h-1zM13,6h1v1h-1zM14,6h1v1h-1zM16,6h1v1h-1zM1,7h1v1h-1zM2,7h1v1h-1zM4,7h1v1h-1zM5,7h1v1h-1zM6,7h1v1h-1zM10,7h1v1h-1zM11,7h1v1h-1zM13,7h1v1h-1zM14,7h1v1h-1zM15,7h1v1h-1zM16,7h1v1h-1zM1,8h1v1h-1zM2,8h1v1h-1zM4,8h1v1h-1zM5,8h1v1h-1zM6,8h1v1h-1zM10,8h1v1h-1zM11,8h1v1h-1zM13,8h1v1h-1zM14,8h1v1h-1zM16,8h1v1h-1zM1,9h1v1h-1zM2,9h1v1h-1zM3,9h1v1h-1zM4,9h1v1h-1zM5,9h1v1h-1zM6,9h1v1h-1zM10,9h1v1h-1zM11,9h1v1h-1zM12,9h1v1h-1zM13,9h1v1h-1zM14,9h1v1h-1zM16,9h1v1h-1zM1,10h1v1h-1zM4,10h1v1h-1zM6,10h1v1h-1zM9,10h1v1h-1zM10,10h1v1h-1zM15,10h1v1h-1zM0,11h1v1h-1zM1,11h1v1h-1zM5,11h1v1h-1zM6,11h1v1h-1zM7,11h1v1h-1zM8,11h1v1h-1zM10,11h1v1h-1zM11,11h1v1h-1zM12,11h1v1h-1zM13,11h1v1h-1zM15,11h1v1h-1zM16,11h1v1h-1zM0,12h1v1h-1zM2,12h1v1h-1zM5,12h1v1h-1zM7,12h1v1h-1zM8,12h1v1h-1zM11,12h1v1h-1zM13,12h1v1h-1zM14,12h1v1h-1zM16,12h1v1h-1zM1,13h1v1h-1zM2,13h1v1h-1zM5,13h1v1h-1zM9,13h1v1h-1zM11,13h1v1h-1zM2,14h1v1h-1zM3,14h1v1h-1zM4,14h1v1h-1zM14,14h1v1h-1zM15,14h1v1h-1zM1,15h1v1h-1zM3,15h1v1h-1zM4,15h1v1h-1zM6,15h1v1h-1zM9,15h1v1h-1zM10,15h1v1h-1zM11,15h1v1h-1zM12,15h1v1h-1zM15,15h1v1h-1zM0,16h1v1h-1zM1,16h1v1h-1zM2,16h1v1h-1zM3,16h1v1h-1zM5,16h1v1h-1zM6,16h1v1h-1zM8,16h1v1h-1zM9,16h1v1h-1zM10,16h1v1h-1zM11,16h1v1h-1zM13,16h1v1h-1zM15,16h1v1h-1zM16,16h1v1h-1zM0,17h1v1h-1zM2,17h1v1h-1zM3,17h1v1h-1zM5,17h1v1h-1zM7,17h1v1h-1zM8,17h1v1h-1zM11,17h1v1h-1zM13,17h1v1h-1zM14,17h1v1h-1zM16,17h1v1h-1zM1,18h1v1h-1zM2,18h1v1h-1zM5,18h1v1h-1zM9,18h1v1h-1zM11,18h1v1h-1zM12,18h1v1h-1zM14,18h1v1h-1zM15,18h1v1h-1zM1,19h1v1h-1zM4,19h1v1h-1zM5,19h1v1h-1zM9,19h1v1h-1zM12,19h1v1h-1zM14,19h1v1h-1zM15,19h1v1h-1zM1,20h1v1h-1zM2,20h1v1h-1zM3,20h1v1h-1zM6,20h1v1h-1zM7,20h1v1h-1zM8,20h1v1h-1zM9,20h1v1h-1zM10,20h1v1h-1zM15,20h1v1h-1zM16,20h1v1h-1zM2,21h1v1h-1zM3,21h1v1h-1zM7,21h1v1h-1zM8,21h1v1h-1zM9,21h1v1h-1zM10,21h1v1h-1zM15,21h1v1h-1zM16,21h1v1h-1zM1,22h1v1h-1zM2,22h1v1h-1zM7,22h1v1h-1zM8,22h1v1h-1zM10,22h1v1h-1zM15,22h1v1h-1zM16,22h1v1h-1zM1,23h1v1h-1zM2,23h1v1h-1zM3,23h1v1h-1zM7,23h1v1h-1zM8,23h1v1h-1zM9,23h1v1h-1zM10,23h1v1h-1zM15,23h1v1h-1zM16,23h1v1h-1zM1,24h1v1h-1zM2,24h1v1h-1zM3,24h1v1h-1zM4,24h1v1h-1zM6,24h1v1h-1zM7,24h1v1h-1zM8,24h1v1h-1zM9,24h1v1h-1zM10,24h1v1h-1zM15,24h1v1h-1zM16,24h1v1h-1zM1,25h1v1h-1zM2,25h1v1h-1zM3,25h1v1h-1zM7,25h1v1h-1zM8,25h1v1h-1zM9,25h1v1h-1zM10,25h1v1h-1zM15,25h1v1h-1zM16,25h1v1h-1zM1,26h1v1h-1zM2,26h1v1h-1zM3,26h1v1h-1zM6,26h1v1h-1zM7,26h1v1h-1zM8,26h1v1h-1zM9,26h1v1h-1zM10,26h1v1h-1zM15,26h1v1h-1zM16,26h1v1h-1zM1,27h1v1h-1zM4,27h1v1h-1zM8,27h1v1h-1zM9,27h1v1h-1zM10,27h1v1h-1zM15,27h1v1h-1zM16,27h1v1h-1zM1,28h1v1h-1zM2,28h1v1h-1zM3,28h1v1h-1zM7,28h1v1h-1zM8,28h1v1h-1zM9,28h1v1h-1zM10,28h1v1h-1zM12,28h1v1h-1zM15,28h1v1h-1zM16,28h1v1h-1zM1,29h1v1h-1zM2,29h1v1h-1zM8,29h1v1h-1zM9,29h1v1h-1zM10,29h1v1h-1zM15,29h1v1h-1zM16,29h1v1h-1zM0,30h1v1h-1zM5,30h1v1h-1zM7,30h1v1h-1zM8,30h1v1h-1zM11,30h1v1h-1zM13,30h1v1h-1zM14,30h1v1h-1zM16,30h1v1h-1zM0,31h1v1h-1zM1,31h1v1h-1zM2,31h1v1h-1zM4,31h1v1h-1zM5,31h1v1h-1zM6,31h1v1h-1zM7,31h1v1h-1zM10,31h1v1h-1zM11,31h1v1h-1zM13,31h1v1h-1zM15,31h1v1h-1zM16,31h1v1h-1zM1,32h1v1h-1zM3,32h1v1h-1zM4,32h1v1h-1zM6,32h1v1h-1zM9,32h1v1h-1zM10,32h1v1h-1zM2,33h1v1h-1zM3,33h1v1h-1zM4,33h1v1h-1zM9,33h1v1h-1zM12,33h1v1h-1zM14,33h1v1h-1zM15,33h1v1h-1zM1,34h1v1h-1zM4,34h1v1h-1zM5,34h1v1h-1zM9,34h1v1h-1zM11,34h1v1h-1zM12,34h1v1h-1zM14,34h1v1h-1zM16,34h1v1h-1zM1,35h1v1h-1zM2,35h1v1h-1zM3,35h1v1h-1zM4,35h1v1h-1zM10,35h1v1h-1zM11,35h1v1h-1zM12,35h1v1h-1zM13,35h1v1h-1zM14,35h1v1h-1zM16,35h1v1h-1zM1,36h1v1h-1zM2,36h1v1h-1zM3,36h1v1h-1zM4,36h1v1h-1zM5,36h1v1h-1zM6,36h1v1h-1zM10,36h1v1h-1zM11,36h1v1h-1zM12,36h1v1h-1zM13,36h1v1h-1zM14,36h1v1h-1zM16,36h1v1h-1zM1,37h1v1h-1zM2,37h1v1h-1zM3,37h1v1h-1zM4,37h1v1h-1zM5,37h1v1h-1zM6,37h1v1h-1zM10,37h1v1h-1zM11,37h1v1h-1zM12,37h1v1h-1zM13,37h1v1h-1zM14,37h1v1h-1zM16,37h1v1h-1zM2,38h1v1h-1zM3,38h1v1h-1zM4,38h1v1h-1zM5,38h1v1h-1zM6,38h1v1h-1zM10,38h1v1h-1zM11,38h1v1h-1zM12,38h1v1h-1zM13,38h1v1h-1zM14,38h1v1h-1zM1,39h1v1h-1zM2,39h1v1h-1zM3,39h1v1h-1zM4,39h1v1h-1zM5,39h1v1h-1zM6,39h1v1h-1zM7,39h1v1h-1zM9,39h1v1h-1zM10,39h1v1h-1zM11,39h1v1h-1zM12,39h1v1h-1zM13,39h1v1h-1zM1,40h1v1h-1zM2,40h1v1h-1zM3,40h1v1h-1zM7,40h1v1h-1zM8,40h1v1h-1zM14,40h1v1h-1zM16,40h1v1h-1zM1,41h1v1h-1zM3,41h1v1h-1zM8,41h1v1h-1zM9,41h1v1h-1zM16,41h1v1h-1zM1,42h1v1h-1zM2,42h1v1h-1zM7,42h1v1h-1zM8,42h1v1h-1zM9,42h1v1h-1zM10,42h1v1h-1zM11,42h1v1h-1zM12,42h1v1h-1zM16,42h1v1h-1zM1,43h1v1h-1zM2,43h1v1h-1zM3,43h1v1h-1zM6,43h1v1h-1zM7,43h1v1h-1zM8,43h1v1h-1zM9,43h1v1h-1zM1,44h1v1h-1zM2,44h1v1h-1zM3,44h1v1h-1zM12,44h1v1h-1zM16,44h1v1h-1zM2,45h1v1h-1zM3,45h1v1h-1zM4,45h1v1h-1zM5,45h1v1h-1zM7,45h1v1h-1zM8,45h1v1h-1zM9,45h1v1h-1zM12,45h1v1h-1zM16,45h1v1h-1zM1,46h1v1h-1zM2,46h1v1h-1zM9,46h1v1h-1zM12,46h1v1h-1zM16,46h1v1h-1zM1,47h1v1h-1zM2,47h1v1h-1zM4,47h1v1h-1zM6,47h1v1h-1zM7,47h1v1h-1zM8,47h1v1h-1zM9,47h1v1h-1zM14,47h1v1h-1zM1,48h1v1h-1zM2,48h1v1h-1zM3,48h1v1h-1zM4,48h1v1h-1zM7,48h1v1h-1zM8,48h1v1h-1zM9,48h1v1h-1zM16,48h1v1h-1zM1,49h1v1h-1zM2,49h1v1h-1zM3,49h1v1h-1zM7,49h1v1h-1zM8,49h1v1h-1zM16,49h1v1h-1z" fill="#fde725"/><path d="M0,10.5h17M0,20.5h17M0,30.5h17M0,40.5h17M10.5,0v50" stroke="#c9c4d6" stroke-width=".3" fill="none"/></svg>
<svg style="position:absolute;left:3049.1px;top:1071.4px" width="34.1" height="95.1" viewBox="-0.42 -0.43 17.84 50.86" preserveAspectRatio="none"><rect x="-0.42" y="-0.43" width="17.84" height="50.86" fill="#ccccd6"/><rect width="17" height="50" fill="#440154"/><path d="M10,0h1v1h-1zM13,0h1v1h-1zM0,1h1v1h-1zM5,1h1v1h-1zM13,1h1v1h-1zM3,2h1v1h-1zM14,2h1v1h-1zM9,3h1v1h-1zM10,3h1v1h-1zM11,4h1v1h-1zM12,4h1v1h-1zM13,5h1v1h-1zM1,6h1v1h-1zM6,6h1v1h-1zM16,6h1v1h-1zM12,7h1v1h-1zM15,7h1v1h-1zM10,8h1v1h-1zM15,8h1v1h-1zM8,9h1v1h-1zM13,9h1v1h-1zM15,9h1v1h-1zM5,10h1v1h-1zM13,10h1v1h-1zM5,11h1v1h-1zM11,11h1v1h-1zM12,11h1v1h-1zM13,11h1v1h-1zM1,12h1v1h-1zM8,12h1v1h-1zM5,14h1v1h-1zM11,14h1v1h-1zM16,14h1v1h-1zM10,16h1v1h-1zM14,16h1v1h-1zM16,16h1v1h-1zM3,17h1v1h-1zM10,17h1v1h-1zM14,17h1v1h-1zM6,18h1v1h-1zM8,18h1v1h-1zM13,18h1v1h-1zM8,19h1v1h-1zM9,19h1v1h-1zM14,19h1v1h-1zM15,19h1v1h-1zM10,20h1v1h-1zM13,20h1v1h-1zM1,22h1v1h-1zM1,23h1v1h-1zM8,23h1v1h-1zM11,23h1v1h-1zM14,23h1v1h-1zM16,24h1v1h-1zM8,25h1v1h-1zM1,26h1v1h-1zM3,27h1v1h-1zM5,28h1v1h-1zM11,28h1v1h-1zM11,29h1v1h-1zM7,30h1v1h-1zM13,30h1v1h-1zM15,30h1v1h-1zM4,31h1v1h-1zM13,31h1v1h-1zM2,32h1v1h-1zM9,32h1v1h-1zM3,33h1v1h-1zM11,33h1v1h-1zM14,34h1v1h-1zM14,37h1v1h-1zM0,38h1v1h-1zM4,38h1v1h-1zM14,38h1v1h-1zM15,39h1v1h-1zM3,40h1v1h-1zM13,40h1v1h-1zM12,41h1v1h-1zM6,42h1v1h-1zM12,42h1v1h-1zM15,42h1v1h-1zM3,43h1v1h-1zM0,44h1v1h-1zM10,44h1v1h-1zM11,44h1v1h-1zM16,45h1v1h-1zM10,46h1v1h-1zM11,47h1v1h-1zM6,48h1v1h-1zM11,48h1v1h-1zM7,49h1v1h-1z" fill="#fde725"/><path d="M0,10.5h17M0,20.5h17M0,30.5h17M0,40.5h17M10.5,0v50" stroke="#c9c4d6" stroke-width=".3" fill="none"/></svg>
<svg style="position:absolute;left:3146.7999999999997px;top:1071.4px" width="34.1" height="95.1" viewBox="-0.42 -0.43 17.84 50.86" preserveAspectRatio="none"><rect x="-0.42" y="-0.43" width="17.84" height="50.86" fill="#ccccd6"/><rect width="17" height="50" fill="#440154"/><path d="M2,0h1v1h-1zM0,1h1v1h-1zM6,2h1v1h-1zM8,2h1v1h-1zM7,4h1v1h-1zM13,4h1v1h-1zM15,5h1v1h-1zM6,6h1v1h-1zM5,7h1v1h-1zM8,7h1v1h-1zM6,8h1v1h-1zM9,8h1v1h-1zM11,8h1v1h-1zM13,8h1v1h-1zM6,9h1v1h-1zM15,10h1v1h-1zM9,11h1v1h-1zM16,12h1v1h-1zM2,13h1v1h-1zM0,14h1v1h-1zM8,14h1v1h-1zM5,15h1v1h-1zM11,15h1v1h-1zM3,16h1v1h-1zM3,18h1v1h-1zM15,18h1v1h-1zM2,20h1v1h-1zM15,20h1v1h-1zM6,22h1v1h-1zM12,22h1v1h-1zM15,23h1v1h-1zM4,24h1v1h-1zM8,26h1v1h-1zM14,26h1v1h-1zM8,27h1v1h-1zM10,27h1v1h-1zM5,28h1v1h-1zM6,32h1v1h-1zM11,32h1v1h-1zM1,33h1v1h-1zM6,33h1v1h-1zM11,36h1v1h-1zM3,37h1v1h-1zM4,39h1v1h-1zM13,40h1v1h-1zM2,42h1v1h-1zM5,42h1v1h-1zM12,45h1v1h-1zM16,46h1v1h-1zM6,47h1v1h-1zM7,47h1v1h-1zM13,47h1v1h-1zM4,48h1v1h-1zM5,49h1v1h-1zM12,49h1v1h-1zM13,49h1v1h-1z" fill="#fde725"/><path d="M0,10.5h17M0,20.5h17M0,30.5h17M0,40.5h17M10.5,0v50" stroke="#c9c4d6" stroke-width=".3" fill="none"/></svg>
<div class="bx" style="left:2868.25px;top:947.2px;width:200px;text-align:center;font-size:8.5px;line-height:10px;color:#333;white-space:nowrap">Congress</div>
<div class="bx" style="left:2966.15px;top:947.2px;width:200px;text-align:center;font-size:8.5px;line-height:10px;color:#333;white-space:nowrap">kBMF Approximation</div>
<div class="bx" style="left:3063.85px;top:947.2px;width:200px;text-align:center;font-size:8.5px;line-height:10px;color:#333;white-space:nowrap">kBMF+ Approximation</div>
<div class="bx" style="left:2922.0px;top:955.935px;width:24px;text-align:right;font-size:7.8px;line-height:10px;color:#333">0</div>
<div class="bx" style="left:2922.0px;top:974.635px;width:24px;text-align:right;font-size:7.8px;line-height:10px;color:#333">10</div>
<div class="bx" style="left:2922.0px;top:993.335px;width:24px;text-align:right;font-size:7.8px;line-height:10px;color:#333">20</div>
<div class="bx" style="left:2922.0px;top:1012.035px;width:24px;text-align:right;font-size:7.8px;line-height:10px;color:#333">30</div>
<div class="bx" style="left:2922.0px;top:1030.735px;width:24px;text-align:right;font-size:7.8px;line-height:10px;color:#333">40</div>
<div class="bx" style="left:2852.955882352941px;top:1058.8999999999999px;width:200px;text-align:center;font-size:7.8px;line-height:10px;color:#333;white-space:nowrap">0</div>
<div class="bx" style="left:2872.073529411765px;top:1058.8999999999999px;width:200px;text-align:center;font-size:7.8px;line-height:10px;color:#333;white-space:nowrap">10</div>
<div class="bx" style="left:3019.9px;top:955.935px;width:24px;text-align:right;font-size:7.8px;line-height:10px;color:#333">0</div>
<div class="bx" style="left:3019.9px;top:974.635px;width:24px;text-align:right;font-size:7.8px;line-height:10px;color:#333">10</div>
<div class="bx" style="left:3019.9px;top:993.335px;width:24px;text-align:right;font-size:7.8px;line-height:10px;color:#333">20</div>
<div class="bx" style="left:3019.9px;top:1012.035px;width:24px;text-align:right;font-size:7.8px;line-height:10px;color:#333">30</div>
<div class="bx" style="left:3019.9px;top:1030.735px;width:24px;text-align:right;font-size:7.8px;line-height:10px;color:#333">40</div>
<div class="bx" style="left:2950.855882352941px;top:1058.8999999999999px;width:200px;text-align:center;font-size:7.8px;line-height:10px;color:#333;white-space:nowrap">0</div>
<div class="bx" style="left:2969.973529411765px;top:1058.8999999999999px;width:200px;text-align:center;font-size:7.8px;line-height:10px;color:#333;white-space:nowrap">10</div>
<div class="bx" style="left:3117.6px;top:955.935px;width:24px;text-align:right;font-size:7.8px;line-height:10px;color:#333">0</div>
<div class="bx" style="left:3117.6px;top:974.635px;width:24px;text-align:right;font-size:7.8px;line-height:10px;color:#333">10</div>
<div class="bx" style="left:3117.6px;top:993.335px;width:24px;text-align:right;font-size:7.8px;line-height:10px;color:#333">20</div>
<div class="bx" style="left:3117.6px;top:1012.035px;width:24px;text-align:right;font-size:7.8px;line-height:10px;color:#333">30</div>
<div class="bx" style="left:3117.6px;top:1030.735px;width:24px;text-align:right;font-size:7.8px;line-height:10px;color:#333">40</div>
<div class="bx" style="left:3048.555882352941px;top:1058.8999999999999px;width:200px;text-align:center;font-size:7.8px;line-height:10px;color:#333;white-space:nowrap">0</div>
<div class="bx" style="left:3067.673529411765px;top:1058.8999999999999px;width:200px;text-align:center;font-size:7.8px;line-height:10px;color:#333;white-space:nowrap">10</div>
<div class="bx" style="left:3019.9px;top:1068.335px;width:24px;text-align:right;font-size:7.8px;line-height:10px;color:#333">0</div>
<div class="bx" style="left:3019.9px;top:1087.035px;width:24px;text-align:right;font-size:7.8px;line-height:10px;color:#333">10</div>
<div class="bx" style="left:3019.9px;top:1105.7350000000001px;width:24px;text-align:right;font-size:7.8px;line-height:10px;color:#333">20</div>
<div class="bx" style="left:3019.9px;top:1124.4350000000002px;width:24px;text-align:right;font-size:7.8px;line-height:10px;color:#333">30</div>
<div class="bx" style="left:3019.9px;top:1143.135px;width:24px;text-align:right;font-size:7.8px;line-height:10px;color:#333">40</div>
<div class="bx" style="left:2950.855882352941px;top:1171.3px;width:200px;text-align:center;font-size:7.8px;line-height:10px;color:#333;white-space:nowrap">0</div>
<div class="bx" style="left:2969.973529411765px;top:1171.3px;width:200px;text-align:center;font-size:7.8px;line-height:10px;color:#333;white-space:nowrap">10</div>
<div class="bx" style="left:3117.6px;top:1068.335px;width:24px;text-align:right;font-size:7.8px;line-height:10px;color:#333">0</div>
<div class="bx" style="left:3117.6px;top:1087.035px;width:24px;text-align:right;font-size:7.8px;line-height:10px;color:#333">10</div>
<div class="bx" style="left:3117.6px;top:1105.7350000000001px;width:24px;text-align:right;font-size:7.8px;line-height:10px;color:#333">20</div>
<div class="bx" style="left:3117.6px;top:1124.4350000000002px;width:24px;text-align:right;font-size:7.8px;line-height:10px;color:#333">30</div>
<div class="bx" style="left:3117.6px;top:1143.135px;width:24px;text-align:right;font-size:7.8px;line-height:10px;color:#333">40</div>
<div class="bx" style="left:3048.555882352941px;top:1171.3px;width:200px;text-align:center;font-size:7.8px;line-height:10px;color:#333;white-space:nowrap">0</div>
<div class="bx" style="left:3067.673529411765px;top:1171.3px;width:200px;text-align:center;font-size:7.8px;line-height:10px;color:#333;white-space:nowrap">10</div>
<div class="l tt" style="left:881.4px;top:50.1px;"><span style="transform:scaleX(0.8778)">Fast</span></div>
<div class="l tt" style="left:1052.2px;top:50.1px;"><span style="transform:scaleX(0.9908)"><span class="m" style="font-weight:normal;font-size:100%">(1 + <i>ε</i>)</span></span></div>
<div class="l tt" style="left:1265.2px;top:50.1px;"><span style="transform:scaleX(0.9524)">-Approximation Algorithms for Binary Matrix Factorization</span></div>
<div class="l au" style="left:1304.0px;top:152.0px;"><span style="transform:scaleX(0.9932)">Ameya Velingker <sup style="font-size:62%">1</sup></span></div>
<div class="l au" style="left:1733.0px;top:152.0px;"><span style="transform:scaleX(0.9942)">Maximilian Vötsch <sup style="font-size:62%">2</sup></span></div>
<div class="l au" style="left:2185.4px;top:152.0px;"><span style="transform:scaleX(0.9921)">David P. Woodruff <sup style="font-size:62%">3</sup></span></div>
<div class="l au" style="left:2633.6px;top:152.0px;"><span style="transform:scaleX(0.9901)">Samson Zhou <sup style="font-size:62%">4</sup></span></div>
<div class="l af" style="left:476.2px;top:226.5px;"><span style="transform:scaleX(0.9938)"><sup>1</sup>Google Research</span></div>
<div class="l af" style="left:802.2px;top:226.5px;"><span style="transform:scaleX(1.0093)"><sup>2</sup>Faculty of Computer Science, Univie Doctoral School Computer Science DoCS, University of Vienna</span></div>
<div class="l af" style="left:2296.8px;top:226.5px;"><span style="transform:scaleX(1.0179)"><sup>3</sup>Carnegie Mellon University, work done while at Google Research</span></div>
<div class="l af" style="left:3302.9px;top:226.5px;"><span style="transform:scaleX(1.0062)"><sup>4</sup>UC Berkeley and Rice University</span></div>
<div class="l ft" style="left:130.5px;top:2065.8px;"><span style="transform:scaleX(0.9754)">ICML 2023, Honolulu, Hawaii</span></div>
<div class="l h" style="left:509.2px;top:379.4px;"><span style="transform:scaleX(0.9879)">Binary Matrix Factorization</span></div>
<div class="l b" style="left:105.9px;top:450.0px;word-spacing:5.56px;"><span style="transform:scaleX(0.9980)">Low-rank approximation is a fundamental tool for factor analysis in machine learning, recom-</span></div>
<div class="l b" style="left:105.9px;top:487.3px;word-spacing:2.62px;"><span style="transform:scaleX(0.9980)">mender systems, data science, statistics, computer vision, and natural language processing. [<a>3</a>]</span></div>
<div class="l b" style="left:105.9px;top:524.6px;word-spacing:0.16px;"><span style="transform:scaleX(0.9980)">found that more than half of the UCI Machine Learning Repository datasets are binary or categor-</span></div>
<div class="l b" style="left:105.9px;top:562.0px;word-spacing:2.53px;"><span style="transform:scaleX(0.9980)">ical.<s></s> Factorizing a binary matrix into binary factors aids the interpretability of the factors, lets us</span></div>
<div class="l b" style="left:105.9px;top:599.3px;word-spacing:-0.83px;"><span style="transform:scaleX(0.9980)">calculate matrix-vector products faster, and can store the matrix using less space.<s></s> Specifically, this</span></div>
<div class="l b" style="left:105.9px;top:636.6px;word-spacing:2.55px;"><span style="transform:scaleX(0.9980)">problem finds applications in graph partitioning and graph covering, low-density parity-checking,</span></div>
<div class="l b" style="left:105.9px;top:673.9px;word-spacing:-0.44px;"><span style="transform:scaleX(0.9980)">and optimizing passive OLED displays.</span></div>
<div class="l b" style="left:105.9px;top:726.8px;word-spacing:1.47px;"><span style="transform:scaleX(0.9980)">The goal of binary matrix factorization (BMF) is to decompose several observed variables stored</span></div>
<div class="l b" style="left:105.9px;top:763.1px;word-spacing:1.45px;"><span style="transform:scaleX(0.9980)">in the matrix <b class="v">A</b> <svg class="sy" viewBox="0 0 10 10" style="width:.6em;height:.6em"><path d="M9.3,.8H5.2A4.2,4.2 0 0 0 5.2,9.2H9.3M1,5H9.3" fill="none" stroke="currentColor" stroke-width="1.05"/></svg> <span class="m">{0, 1}<sup><i>n</i>×<i>d</i></sup></span> into a combination of <i class="v">k</i> unobserved and uncorrelated variables called</span></div>
<div class="l b" style="left:105.9px;top:800.4px;word-spacing:2.86px;"><span style="transform:scaleX(0.9980)">factors, represented by the matrices <b class="v">U</b> <svg class="sy" viewBox="0 0 10 10" style="width:.6em;height:.6em"><path d="M9.3,.8H5.2A4.2,4.2 0 0 0 5.2,9.2H9.3M1,5H9.3" fill="none" stroke="currentColor" stroke-width="1.05"/></svg> <span class="m">{0, 1}<sup><i>n</i>×<i>k</i></sup></span> and <b class="v">V</b> <svg class="sy" viewBox="0 0 10 10" style="width:.6em;height:.6em"><path d="M9.3,.8H5.2A4.2,4.2 0 0 0 5.2,9.2H9.3M1,5H9.3" fill="none" stroke="currentColor" stroke-width="1.05"/></svg> <span class="m">{0, 1}<sup><i>k</i>×<i>d</i></sup></span>.<s></s> In particular, we want to</span></div>
<div class="l b" style="left:105.9px;top:838.8px;word-spacing:2.64px;"><span style="transform:scaleX(0.9980)">solve the problem</span></div>
<div class="l b" style="left:634.0px;top:875.0px;"><span style="transform:scaleX(0.9755)"><span class="m">min</span></span></div>
<div class="l c" style="left:537.8px;top:899.5px;font-size:23.5px;"><span style="transform:scaleX(0.9695)"><span class="m"><b>U</b><svg class="sy" viewBox="0 0 10 10" style="width:.6em;height:.6em"><path d="M9.3,.8H5.2A4.2,4.2 0 0 0 5.2,9.2H9.3M1,5H9.3" fill="none" stroke="currentColor" stroke-width="1.05"/></svg>{0,1}<sup><i>n</i>×<i>k</i></sup>,<b>V</b><svg class="sy" viewBox="0 0 10 10" style="width:.6em;height:.6em"><path d="M9.3,.8H5.2A4.2,4.2 0 0 0 5.2,9.2H9.3M1,5H9.3" fill="none" stroke="currentColor" stroke-width="1.05"/></svg>{0,1}<sup><i>k</i>×<i>d</i></sup></span></span></div>
<div class="l b" style="left:786.4px;top:876.7px;"><span style="transform:scaleX(1.0652)"><span class="m"><span class="nb"></span><b>UV</b> &nbsp;− <b>A</b><span class="nb"></span>,</span></span></div>
<div class="l b" style="left:105.9px;top:957.8px;word-spacing:2.47px;"><span style="transform:scaleX(0.9980)">for some loss function <span class="m"><span class="nb"></span> · <span class="nb"></span></span> and <i class="v">k</i> <svg class="sy" viewBox="0 0 15 10" style="width:.92em;height:.6em"><path d="M8.5,.6L1,5L8.5,9.4M14.5,.6L7,5L14.5,9.4" fill="none" stroke="currentColor" stroke-width="1.05"/></svg> <span class="m"><i>n</i>, <i>d</i></span>.<s></s> We consider the setting where <span class="m"><span class="nb"></span> · <span class="nb"></span></span> is <i class=s>Frobenius loss</i></span></div>
<div class="l b" style="left:105.9px;top:995.1px;word-spacing:1.40px;"><span style="transform:scaleX(0.9980)">or general <span class="m"><i>L</i><sub><i>p</i></sub></span><i class=s>-loss</i>, and where the matrix multiplication <b class="v">UV</b> is performed over the integers, or the</span></div>
<div class="l b" style="left:105.9px;top:1032.4px;word-spacing:1.82px;"><span style="transform:scaleX(0.9980)">finite field <span class="m"><b>F</b><sub>2</sub></span>.</span></div>
<div class="l h" style="left:586.1px;top:1115.6px;"><span style="transform:scaleX(0.9881)">Our Contributions</span></div>
<div class="l b" style="left:105.9px;top:1186.3px;word-spacing:-0.27px;"><span style="transform:scaleX(0.9980)">The following table outlines the our results and the previous best results in the respective settings:</span></div>
<div class="l b" style="left:227.5px;top:1255.5px;"><span style="transform:scaleX(0.9740)">Reference</span></div>
<div class="l b" style="left:415.0px;top:1255.5px;"><span style="transform:scaleX(1.0308)">Approximation</span></div>
<div class="l b" style="left:704.5px;top:1255.5px;word-spacing:-1.23px;"><span style="transform:scaleX(0.9980)">Running Time</span></div>
<div class="l b" style="left:1059.3px;top:1255.5px;"><span style="transform:scaleX(1.0093)">Setting</span></div>
<div class="l b" style="left:277.5px;top:1297.0px;"><span style="transform:scaleX(1.0019)">[<a>3</a>]</span></div>
<div class="l b" style="left:457.5px;top:1296.0px;"><span style="transform:scaleX(1.0507)"><span class="m"><i>C</i> ≥ 576</span></span></div>
<div class="l b" style="left:691.0px;top:1296.0px;"><span style="transform:scaleX(1.0269)"><span class="m">2<sup><i>Õ</i>(<i>k</i><sup>2</sup>)</sup> </span><span class="m">poly(<i>n</i>, <i>d</i>)</span></span></div>
<div class="l b" style="left:1011.3px;top:1297.0px;word-spacing:-1.60px;"><span style="transform:scaleX(0.9903)">Frobenius loss</span></div>
<div class="l b" style="left:277.5px;top:1350.0px;"><span style="transform:scaleX(1.0019)">[<a>2</a>]</span></div>
<div class="l b" style="left:480.0px;top:1349.0px;"><span style="transform:scaleX(1.0199)"><span class="m">1 + <i>ε</i></span></span></div>
<div class="l b" style="left:665.0px;top:1339.7px;"><span style="transform:scaleX(1.0294)"><span class="m">2<sup style="vertical-align:0.62em;font-size:78%"><span class="fr"><span>2<sup><i>O</i>(<i>k</i>)</sup></span><span><i>ε</i><sup>2</sup></span></span> log<sup>2</sup> <span class="fr"><span>1</span><span><i>ε</i></span></span></sup> </span><span class="m">poly(<i>n</i>, <i>d</i>)</span></span></div>
<div class="l b" style="left:1011.3px;top:1350.0px;word-spacing:-1.60px;"><span style="transform:scaleX(0.9903)">Frobenius loss</span></div>
<div class="l b" style="left:231.5px;top:1392.3px;word-spacing:5.20px;"><span style="transform:scaleX(0.9980)">Our work</span></div>
<div class="l b" style="left:480.0px;top:1391.3px;"><span style="transform:scaleX(1.0199)"><span class="m">1 + <i>ε</i></span></span></div>
<div class="l b" style="left:675.0px;top:1391.3px;"><span style="transform:scaleX(1.0627)"><span class="m">2<sup><i>Õ</i>(<i>k</i><sup>2</sup>/<i>ε</i><sup>4</sup>)</sup> </span><span class="m">poly(<i>n</i>, <i>d</i>)</span></span></div>
<div class="l b" style="left:1011.3px;top:1392.3px;word-spacing:-1.60px;"><span style="transform:scaleX(0.9903)">Frobenius loss</span></div>
<div class="l b" style="left:277.5px;top:1436.6px;"><span style="transform:scaleX(1.0019)">[<a>3</a>]</span></div>
<div class="l b" style="left:386.5px;top:1435.6px;"><span style="transform:scaleX(1.0576)"><span class="m"><i>C</i> ≥ 122<sup>2<i>p</i>−2</sup> + 2<sup><i>p</i>−1</sup></span></span></div>
<div class="l b" style="left:686.0px;top:1435.6px;"><span style="transform:scaleX(0.9971)"><span class="m">2<sup>poly(<i>k</i>)</sup> </span><span class="m">poly(<i>n</i>, <i>d</i>)</span></span></div>
<div class="l b" style="left:1018.3px;top:1435.6px;"><span style="transform:scaleX(1.0086)"><span class="m"><i>L</i><sub><i>p</i></sub></span> loss, <span class="m"><i>p</i> ≥ 1</span></span></div>
<div class="l b" style="left:231.5px;top:1475.6px;word-spacing:5.20px;"><span style="transform:scaleX(0.9980)">Our work</span></div>
<div class="l b" style="left:480.0px;top:1474.6px;"><span style="transform:scaleX(1.0199)"><span class="m">1 + <i>ε</i></span></span></div>
<div class="l b" style="left:675.0px;top:1474.6px;"><span style="transform:scaleX(1.0258)"><span class="m">2<sup>poly(<i>k</i>/<i>ε</i>)</sup> </span><span class="m">poly(<i>n</i>, <i>d</i>)</span></span></div>
<div class="l b" style="left:951.8px;top:1474.6px;"><span style="transform:scaleX(1.0206)"><span class="m"><i>L</i><sub><i>p</i></sub></span> loss, <span class="m"><i>p</i> ≥ 1</span>, bicriteria</span></div>
<div class="l b" style="left:277.5px;top:1532.8px;"><span style="transform:scaleX(1.0019)">[<a>2</a>]</span></div>
<div class="l b" style="left:480.0px;top:1531.8px;"><span style="transform:scaleX(1.0199)"><span class="m">1 + <i>ε</i></span></span></div>
<div class="l b" style="left:665.0px;top:1522.5px;"><span style="transform:scaleX(1.0294)"><span class="m">2<sup style="vertical-align:0.62em;font-size:78%"><span class="fr"><span>2<sup><i>O</i>(<i>k</i>)</sup></span><span><i>ε</i><sup>2</sup></span></span> log<sup>2</sup> <span class="fr"><span>1</span><span><i>ε</i></span></span></sup> </span><span class="m">poly(<i>n</i>, <i>d</i>)</span></span></div>
<div class="l b" style="left:1031.8px;top:1532.8px;word-spacing:1.89px;"><span style="transform:scaleX(0.9980)">Binary field</span></div>
<div class="l b" style="left:277.5px;top:1584.3px;"><span style="transform:scaleX(1.0019)">[<a>1</a>]</span></div>
<div class="l b" style="left:480.0px;top:1583.3px;"><span style="transform:scaleX(1.0199)"><span class="m">1 + <i>ε</i></span></span></div>
<div class="l b" style="left:670.0px;top:1574.0px;"><span style="transform:scaleX(1.0260)"><span class="m">2<sup style="vertical-align:0.62em;font-size:78%"><span class="fr"><span>2<sup><i>O</i>(<i>k</i>)</sup></span><span><i>ε</i><sup>2</sup></span></span> log <span class="fr"><span>1</span><span><i>ε</i></span></span></sup> </span><span class="m">poly(<i>n</i>, <i>d</i>)</span></span></div>
<div class="l b" style="left:1031.8px;top:1584.3px;word-spacing:1.89px;"><span style="transform:scaleX(0.9980)">Binary field</span></div>
<div class="l b" style="left:277.5px;top:1624.9px;"><span style="transform:scaleX(1.0019)">[<a>3</a>]</span></div>
<div class="l b" style="left:442.5px;top:1623.9px;"><span style="transform:scaleX(1.0202)"><span class="m"><i>C</i> ≥ 40001</span></span></div>
<div class="l b" style="left:686.0px;top:1623.9px;"><span style="transform:scaleX(0.9971)"><span class="m">2<sup>poly(<i>k</i>)</sup> </span><span class="m">poly(<i>n</i>, <i>d</i>)</span></span></div>
<div class="l b" style="left:966.3px;top:1624.9px;word-spacing:2.44px;"><span style="transform:scaleX(0.9980)">Binary field, bicriteria</span></div>
<div class="l b" style="left:231.5px;top:1663.9px;word-spacing:5.20px;"><span style="transform:scaleX(0.9980)">Our work</span></div>
<div class="l b" style="left:480.0px;top:1662.9px;"><span style="transform:scaleX(1.0199)"><span class="m">1 + <i>ε</i></span></span></div>
<div class="l b" style="left:675.0px;top:1662.9px;"><span style="transform:scaleX(1.0258)"><span class="m">2<sup>poly(<i>k</i>/<i>ε</i>)</sup> </span><span class="m">poly(<i>n</i>, <i>d</i>)</span></span></div>
<div class="l b" style="left:966.3px;top:1663.9px;word-spacing:2.44px;"><span style="transform:scaleX(0.9980)">Binary field, bicriteria</span></div>
<div class="l c" style="left:445.7px;top:1725.8px;word-spacing:-0.21px;"><span style="transform:scaleX(0.9980)"><span class="p">Table 1.</span> Summary of results and related work for BMF</span></div>
<div class="l b" style="left:105.9px;top:1808.8px;word-spacing:3.16px;"><span style="transform:scaleX(0.9980)">We introduce the first <span class="m">(1 + <i>ε</i>)</span>-approximation algorithms for binary matrix factorization in several</span></div>
<div class="l b" style="left:105.9px;top:1846.1px;word-spacing:4.07px;"><span style="transform:scaleX(0.9980)">settings that run in time <i class=s>singly exponential</i> in <i class="v">k</i>.<s></s> In the finite field setting, we obtain a bicriteria</span></div>
<div class="l b" style="left:105.9px;top:1883.4px;word-spacing:2.10px;"><span style="transform:scaleX(0.9980)">guarantee with factors of size <span class="m"><i>O</i> (<i>k</i><i>ε</i><sup>−1</sup> log <i>n</i>)</span> for singly exponential running time, and it is known</span></div>
<div class="l b" style="left:105.9px;top:1920.8px;word-spacing:3.38px;"><span style="transform:scaleX(0.9980)">that doubly exponential time is necessary to obtain <span class="m">(1 + <i>ε</i>)</span>-approximation with factors of size <i class="v">k</i></span></div>
<div class="l b" style="left:105.9px;top:1957.7px;word-spacing:2.42px;"><span style="transform:scaleX(0.9980)">by a lower bound discovered by [<a>1</a>]. All our algorithms succeed with constant probability <span class="m"><i>p</i> ≥ <span class="fr"><span>2</span><span>3</span></span></span>.</span></div>
<div class="l h" style="left:1987.0px;top:379.4px;"><span style="transform:scaleX(0.9881)">Our Techniques</span></div>
<div class="l b" style="left:1487.8px;top:450.0px;word-spacing:3.83px;"><span style="transform:scaleX(0.9980)">Our algorithmic ideas are inspired by the guessing-based algorithms of [<a>3</a>].<s></s> However, their ap-</span></div>
<div class="l b" style="left:1487.8px;top:486.3px;word-spacing:5.83px;"><span style="transform:scaleX(0.9980)">proach crucially relies on <i class="v">k</i>-means clustering, which necessitates using the triangle inequality</span></div>
<div class="l b" style="left:1487.8px;top:523.6px;word-spacing:2.20px;"><span style="transform:scaleX(0.9980)">several times, foregoing them from achieving <span class="m">(1 + <i>ε</i>)</span>-approximation algorithms.<s></s> On a high level,</span></div>
<div class="l b" style="left:1487.8px;top:562.0px;word-spacing:1.83px;"><span style="transform:scaleX(0.9980)">the most important steps in this approach are:</span></div>
<div class="l b" style="left:1480.8px;top:629.3px;"><span style="transform:scaleX(0.9276)"><span class="p">1.</span></span></div>
<div class="l b" style="left:1518.0px;top:629.3px;word-spacing:0.64px;"><span style="transform:scaleX(0.9980)"><b>Reducing the number of unique rows</b>: To reduce the space of possible guesses, we want to</span></div>
<div class="l b" style="left:1518.0px;top:665.6px;word-spacing:1.74px;"><span style="transform:scaleX(0.9980)">reduce the number of unique rows of <b class="v">A</b> by finding a matrix <span class="ti"><u>~</u><b class="v">A</b></span> that, when approximated, gives</span></div>
<div class="l b" style="left:1518.0px;top:702.9px;word-spacing:1.82px;"><span style="transform:scaleX(0.9980)">a good approximation to <b class="v">A</b>.</span></div>
<div class="l b" style="left:1480.8px;top:749.2px;"><span style="transform:scaleX(0.9276)"><span class="p">2.</span></span></div>
<div class="l b" style="left:1518.0px;top:748.2px;word-spacing:0.82px;"><span style="transform:scaleX(0.9980)"><b>Guessing the sketching matrix</b>: Given <span class="ti"><u>~</u><b class="v">A</b></span> we want to guess a sketching matrix <b class="v">S</b>, such that the</span></div>
<div class="l b" style="left:1518.0px;top:785.5px;word-spacing:2.29px;"><span style="transform:scaleX(0.9980)">sketched problem <span class="m">min<sub><b>V</b></sub></span> <span class="m"><span class="nb"></span><b>SUV</b> − <b>SA</b><span class="nb"></span></span> yields a good approximation to the problem</span></div>
<div class="l b" style="left:1518.0px;top:822.8px;word-spacing:2.07px;"><span style="transform:scaleX(0.9980)"><span class="m">min<sub><b>V</b></sub></span> <span class="m"><span class="nb"></span><b>UV</b> − <b>A</b><span class="nb"></span></span> after fixing <b class="v">U</b> and <b class="v">A</b>. A matrix <b class="v">S</b> with this property is called an <i class=s>affine</i></span></div>
<div class="l b" style="left:1518.0px;top:861.2px;word-spacing:0.91px;"><span style="transform:scaleX(0.9980)"><i class=s>embedding</i>. To make this step efficient, we need to guarantee that there are only a “small”</span></div>
<div class="l b" style="left:1518.0px;top:897.5px;word-spacing:0.53px;"><span style="transform:scaleX(0.9980)">number of guesses for <b class="v">SA</b> and <b class="v">SU</b>.</span></div>
<div class="l b" style="left:1487.8px;top:966.8px;word-spacing:4.17px;"><span style="transform:scaleX(0.9980)">The first step for all our problem domains can be achieved by choosing an appropriate <i class=s>strong</i></span></div>
<div class="l b" style="left:1487.8px;top:1003.1px;word-spacing:3.05px;"><span style="transform:scaleX(0.9980)"><i class=s>coreset</i> construction for <i class="v">k</i>-means clustering.<s></s> A strong coreset is a weighted set of points, which</span></div>
<div class="l b" style="left:1487.8px;top:1040.4px;word-spacing:5.08px;"><span style="transform:scaleX(0.9980)">preserves the <i class="v">k</i>-means clustering cost for any set of <i class="v">k</i> centers up to <span class="m">(1 + <i>ϵ</i>)</span> factors.<s></s> For our</span></div>
<div class="l b" style="left:1487.8px;top:1077.8px;word-spacing:2.63px;"><span style="transform:scaleX(0.9980)">application, it is important that we can construct a strong coreset <i class="v">C</i> with integer weights in time</span></div>
<div class="l b" style="left:1487.8px;top:1115.1px;word-spacing:5.88px;"><span style="transform:scaleX(0.9980)">and space polynomial in <i class="v">k</i>, <i class="v">ε</i>, and <i class="v">d</i>.<s></s> The matrix <span class="ti"><u>~</u><b class="v">A</b></span> is formed by duplicating the points of <i class="v">C</i></span></div>
<div class="l b" style="left:1487.8px;top:1152.4px;word-spacing:7.21px;"><span style="transform:scaleX(0.9980)">according to their weight.<s></s> We construct coresets for <span class="m">2<sup><i>k</i></sup></span>-means clustering since the low-rank</span></div>
<div class="l b" style="left:1487.8px;top:1189.7px;word-spacing:1.88px;"><span style="transform:scaleX(0.9980)">approximation can be considered a <span class="m">2<sup><i>k</i></sup></span>-means clustering of <b class="v">A</b> with linearly dependent centers.</span></div>
<div class="l b" style="left:1487.8px;top:1242.9px;word-spacing:1.58px;"><span style="transform:scaleX(0.9980)">To achieve the second step, we need different approaches depending on the setting:</span></div>
<div class="l b" style="left:1518.0px;top:1311.0px;word-spacing:-0.48px;"><span style="transform:scaleX(0.9980)"><b>Frobenius loss</b>: In this setting, it suffices to let <b class="v">S</b> be a <i class=s>leverage score sampling matrix</i>. This</span></div>
<div class="l b" style="left:1518.0px;top:1348.3px;word-spacing:1.37px;"><span style="transform:scaleX(0.9980)">sketching matrix provides an affine embedding, and when sampling from <span class="ti"><u>~</u><b class="v">A</b></span>, gives us <span class="m">2<sup>poly(<i>k</i>,<i>ϵ</i><sup>−1</sup></sup></span></span></div>
<div class="l b" style="left:1518.0px;top:1385.6px;word-spacing:-0.27px;"><span style="transform:scaleX(0.9980)">possible guesses for pairs of <b class="v">SU</b> and <b class="v">SA</b>.</span></div>
<div class="l b" style="left:1518.0px;top:1430.7px;word-spacing:-0.11px;"><span style="transform:scaleX(0.9980)"><span class="m"><b>F</b><sub>2</sub></span> <b>with Frobenius loss</b>: The leverage score sampling matrix <b class="v">S</b> no longer is an affine</span></div>
<div class="l b" style="left:1518.0px;top:1469.0px;word-spacing:2.03px;"><span style="transform:scaleX(0.9980)">embedding in this setting. To work around this, we group the coreset points by weight and</span></div>
<div class="l b" style="left:1518.0px;top:1505.3px;word-spacing:2.75px;"><span style="transform:scaleX(0.9980)">approximate the matrix <span class="m"><i>G</i><sub><i>i</i></sub></span>, which contains the points of multiplicity <span class="m">[(1 + <i>ε</i>)<sup><i>i</i></sup>, (1 + <i>ε</i>)<sup><i>i</i>+1</sup>)</span> using</span></div>
<div class="l b" style="left:1518.0px;top:1542.7px;word-spacing:2.82px;"><span style="transform:scaleX(0.9980)">the algorithm for BMF <span class="m"><i>L</i><sub>0</sub></span>-approximation of [<a>1</a>]. We form <b class="v">U</b> and <b class="v">V</b> by padding and</span></div>
<div class="l b" style="left:1518.0px;top:1580.0px;word-spacing:3.61px;"><span style="transform:scaleX(0.9980)">concatenating these factors appropriately. This approach lets us reduce the <span class="m"><i>n</i><sup>poly(<i>k</i>,<i>ε</i><sup>−1</sup>)</sup></span> factor</span></div>
<div class="l b" style="left:1518.0px;top:1617.3px;word-spacing:2.95px;"><span style="transform:scaleX(0.9980)">of [<a>1</a>]’s running time to a <span class="m">2<sup>poly(<i>k</i>,<i>ε</i><sup>−1</sup>)</sup></span> factor, while weakening to a bicriteria guarantee.</span></div>
<div class="l b" style="left:1518.0px;top:1662.2px;word-spacing:1.59px;"><span style="transform:scaleX(0.9980)"><span class="m"><i>L</i><sub><i>p</i></sub></span><b>-loss</b>: We compute a coreset on the rows and columns of <b class="v">A</b>, such that <span class="ti"><u>~</u><b class="v">A</b></span> has few unique</span></div>
<div class="l b" style="left:1518.0px;top:1699.5px;word-spacing:1.22px;"><span style="transform:scaleX(0.9980)">rows and columns. Using a custom sketch matrix <b class="v">S</b>, we can solve the concurrent <span class="m"><i>L</i><sub><i>p</i></sub></span></span></div>
<div class="l b" style="left:1518.0px;top:1736.8px;word-spacing:1.89px;"><span style="transform:scaleX(0.9980)">regression problem <span class="m">min<sub><b>X</b></sub></span> <span class="m"><span class="nb"></span><b>AX</b> − <b>B</b><span class="nb"></span><span style="display:inline-block;vertical-align:-0.35em;font-size:70%;line-height:0.78;text-align:left"><i>p</i><br><i>p</i></span></span> where <i class="v">X</i> <svg class="sy" viewBox="0 0 10 10" style="width:.6em;height:.6em"><path d="M9.3,.8H5.2A4.2,4.2 0 0 0 5.2,9.2H9.3M1,5H9.3" fill="none" stroke="currentColor" stroke-width="1.05"/></svg> <span class="m">{0, 1}<sup><i>k</i>×<i>r</i></sup></span> has a small number of columns <i class="v">r</i>.</span></div>
<div class="l b" style="left:1518.0px;top:1786.2px;word-spacing:2.28px;"><span style="transform:scaleX(0.9980)">Our sketched problem has only <span class="m"><i>O</i> <span style="display:inline-block;transform:scale(1.1,1.95);transform-origin:50% 60%">(</span><span class="fr"><span><i>k</i><sup><i>p</i>+1</sup></span><span><i>ε</i><sup>2</sup></span></span> log <i>r</i><span style="display:inline-block;transform:scale(1.1,1.95);transform-origin:50% 60%">)</span></span> rows, which allows us to solve it by</span></div>
<div class="l b" style="left:1518.0px;top:1836.7px;word-spacing:2.35px;"><span style="transform:scaleX(0.9980)">enumeration. The sketch <b class="v">S</b> is then used to find low-rank approximations for each set <span class="m"><i>G</i><sup>(<i>i</i>,<i>j</i>)</sup></span>,</span></div>
<div class="l b" style="left:1518.0px;top:1874.0px;word-spacing:2.29px;"><span style="transform:scaleX(0.9980)">which is constructed similarly to <span class="m"><i>G</i><sub><i>i</i></sub></span> above but grouped over the rows and columns of the</span></div>
<div class="l b" style="left:1518.0px;top:1912.3px;word-spacing:1.11px;"><span style="transform:scaleX(0.9980)">coreset. This is necessary since we require a bound on the number of rows to use our</span></div>
<div class="l b" style="left:1518.0px;top:1948.7px;word-spacing:0.65px;"><span style="transform:scaleX(0.9980)">sketching matrix. Finally, the matrices <b class="v">U</b> and <b class="v">V</b> are assembled by padding, concatenating, and</span></div>
<div class="l b" style="left:1518.0px;top:1986.0px;word-spacing:3.59px;"><span style="transform:scaleX(0.9980)">stacking the factors of the matrices <span class="m"><i>G</i><sup>(<i>i</i>,<i>j</i>)</sup></span> appropriately.</span></div>
<div class="l h" style="left:3223.9px;top:379.4px;"><span style="transform:scaleX(1.0030)">Applications to Big Data Models</span></div>
<div class="l b" style="left:2870.3px;top:450.0px;word-spacing:2.65px;"><span style="transform:scaleX(0.9980)">The use of coresets allows us to obtain the first algorithms for BMF in big data models of com-</span></div>
<div class="l b" style="left:2870.3px;top:487.3px;"><span style="transform:scaleX(1.0480)">putation:</span></div>
<div class="l b" style="left:2900.9px;top:555.1px;word-spacing:1.70px;"><span style="transform:scaleX(0.9980)"><b>Streaming Model</b>: A two-pass algorithm using space sublinear in the size of the input matrix,</span></div>
<div class="l b" style="left:2900.9px;top:592.4px;word-spacing:2.65px;"><span style="transform:scaleX(0.9980)">where either rows or columns of the input matrix arrive sequentially</span></div>
<div class="l b" style="left:2900.9px;top:638.4px;word-spacing:4.13px;"><span style="transform:scaleX(0.9980)"><b>Distributed Model</b>: A two-round protocol in the distributed model, where the input matrix is</span></div>
<div class="l b" style="left:2900.9px;top:675.7px;word-spacing:1.72px;"><span style="transform:scaleX(0.9980)">partitioned among several players, using communication sublinear in the size of the input</span></div>
<div class="l b" style="left:2900.9px;top:713.0px;"><span style="transform:scaleX(1.0067)">matrix</span></div>
<div class="l h" style="left:3396.6px;top:804.3px;"><span style="transform:scaleX(1.0000)">Experiments</span></div>
<div class="l b" style="left:3274.0px;top:875.6px;word-spacing:2.93px;"><span style="transform:scaleX(0.9980)">Our experiments study the feasibility of partially executing our al-</span></div>
<div class="l b" style="left:3274.0px;top:912.9px;word-spacing:2.55px;"><span style="transform:scaleX(0.9980)">gorithm to obtain better heuristics than previously available in the</span></div>
<div class="l b" style="left:3274.0px;top:950.2px;word-spacing:1.12px;"><span style="transform:scaleX(0.9980)">literature [<a>5</a>, <a>3</a>, <a>4</a>].<s></s> The algorithm performs a k-means clustering of</span></div>
<div class="l b" style="left:3274.0px;top:986.6px;word-spacing:1.11px;"><span style="transform:scaleX(0.9980)">the rows to obtain the matrix <b class="v">V</b><span class="m">′</span>, and we then use an enumeration</span></div>
<div class="l b" style="left:3274.0px;top:1023.9px;word-spacing:4.11px;"><span style="transform:scaleX(0.9980)">step to find the minimizer <b class="v">U</b><span class="m"><sup>*</sup></span> of <span class="m">min<sub><b>U</b></sub></span> <span class="m"><span class="nb"></span><b>UV</b>′ − <b>A</b><span class="nb"></span></span>.<s></s> While having</span></div>
<div class="l b" style="left:3274.0px;top:1061.2px;word-spacing:4.67px;"><span style="transform:scaleX(0.9980)">runtime exponential in <i class="v">k</i>, this step terminates in a short time for</span></div>
<div class="l b" style="left:3274.0px;top:1098.5px;word-spacing:0.27px;"><span style="transform:scaleX(0.9980)"><span class="m"><i>k</i> ≤ 20</span> in our experiments while yielding a substantial improvement</span></div>
<div class="l b" style="left:3274.0px;top:1136.8px;word-spacing:0.49px;"><span style="transform:scaleX(0.9980)">over the algorithm of [<a>3</a>], which uses a similar clustering-based ap-</span></div>
<div class="l b" style="left:3274.0px;top:1174.2px;"><span style="transform:scaleX(0.9785)">proach.</span></div>
<div class="l b" style="left:3274.0px;top:1226.7px;word-spacing:4.01px;"><span style="transform:scaleX(0.9980)">We compare our algorithm to other heuristics on real binary val-</span></div>
<div class="l b" style="left:3274.0px;top:1264.0px;word-spacing:1.63px;"><span style="transform:scaleX(0.9980)">ued datasets and synthetic datasets, including low-rank and noisy</span></div>
<div class="l b" style="left:3274.0px;top:1301.3px;word-spacing:-0.40px;"><span style="transform:scaleX(0.9980)">low-rank matrices.<s></s> Our algorithm was best in class on dense matri-</span></div>
<div class="l b" style="left:3274.0px;top:1338.7px;word-spacing:3.50px;"><span style="transform:scaleX(0.9980)">ces in our experiments, often recovering low-rank structures per-</span></div>
<div class="l b" style="left:3274.0px;top:1376.0px;word-spacing:5.24px;"><span style="transform:scaleX(0.9980)">fectly while other heuristics failed.<s></s> It even remained competitive</span></div>
<div class="l b" style="left:3274.0px;top:1413.3px;word-spacing:2.11px;"><span style="transform:scaleX(0.9980)">on sparse datasets, sometimes achieving the best approximation,</span></div>
<div class="l b" style="left:3274.0px;top:1450.6px;word-spacing:5.82px;"><span style="transform:scaleX(0.9980)">and at worst, the error was a factor 3 larger than that of other</span></div>
<div class="l b" style="left:3274.0px;top:1487.9px;"><span style="transform:scaleX(0.9909)">heuristics.</span></div>
<div class="l c" style="left:2870.3px;top:1243.6px;word-spacing:0.37px;"><span style="transform:scaleX(0.9980)"><span class="p">Figure 1.</span> Comparing the quality of</span></div>
<div class="l c" style="left:2870.3px;top:1274.9px;word-spacing:1.65px;"><span style="transform:scaleX(0.9980)">approximation of the algorithm of</span></div>
<div class="l c" style="left:2870.3px;top:1306.1px;word-spacing:-0.66px;"><span style="transform:scaleX(0.9980)">[<a>3</a>] (kBMF) to ours (kBMF+).<s></s> The</span></div>
<div class="l c" style="left:2870.3px;top:1337.4px;word-spacing:0.15px;"><span style="transform:scaleX(0.9980)">first row is the original dataset,</span></div>
<div class="l c" style="left:2870.3px;top:1368.7px;word-spacing:-0.95px;"><span style="transform:scaleX(0.9980)">their approximation, and ours.<s></s> The</span></div>
<div class="l c" style="left:2870.3px;top:1399.9px;word-spacing:-0.02px;"><span style="transform:scaleX(0.9980)">second row indicates the entries</span></div>
<div class="l c" style="left:2870.3px;top:1431.2px;word-spacing:1.32px;"><span style="transform:scaleX(0.9980)">in which the approximations differ</span></div>
<div class="l c" style="left:2870.3px;top:1462.5px;word-spacing:1.29px;"><span style="transform:scaleX(0.9980)">from the original in yellow.</span></div>
<div class="l c" style="left:2870.3px;top:1493.8px;word-spacing:-0.21px;"><span style="transform:scaleX(0.9980)">kBMF+’s error is half of kBMF’s.</span></div>
<div class="l h" style="left:3408.6px;top:1565.7px;"><span style="transform:scaleX(0.9934)">References</span></div>
<div class="l r" style="left:2871.2px;top:1666.8px;"><span style="transform:scaleX(1.0089)">[1]</span></div>
<div class="l r" style="left:2909.2px;top:1666.8px;word-spacing:0.59px;"><span style="transform:scaleX(0.9980)">Frank Ban, Vijay Bhattiprolu, Karl Bringmann, Pavel Kolev, Euiwoong Lee, and David P. Woodruff. A PTAS for <span class="m"><i>ℓ</i><sub><i>p</i></sub></span>-low rank</span></div>
<div class="l r" style="left:2909.2px;top:1693.9px;word-spacing:-0.37px;"><span style="transform:scaleX(0.9980)">approximation. In <i class=s>Proceedings of the Thirtieth Annual ACM-SIAM Symposium on Discrete Algorithms, SODA</i>, pages 747–766, 2019.</span></div>
<div class="l r" style="left:2871.2px;top:1732.9px;"><span style="transform:scaleX(1.0089)">[2]</span></div>
<div class="l r" style="left:2909.2px;top:1732.9px;word-spacing:0.18px;"><span style="transform:scaleX(0.9980)">Fedor V. Fomin, Petr A. Golovach, Daniel Lokshtanov, Fahad Panolan, and Saket Saurabh. Approximation schemes for low-rank binary</span></div>
<div class="l r" style="left:2909.2px;top:1759.9px;word-spacing:1.37px;"><span style="transform:scaleX(0.9980)">matrix approximation problems. <i class=s>ACM Trans. Algorithms</i>, 16(1):12:1–12:39, 2020.</span></div>
<div class="l r" style="left:2871.2px;top:1798.4px;"><span style="transform:scaleX(1.0089)">[3]</span></div>
<div class="l r" style="left:2909.2px;top:1798.4px;word-spacing:0.17px;"><span style="transform:scaleX(0.9980)">Ravi Kumar, Rina Panigrahy, Ali Rahimi, and David P. Woodruff. Faster algorithms for binary matrix factorization. In <i class=s>Proceedings of the</i></span></div>
<div class="l r" style="left:2909.2px;top:1826.0px;word-spacing:0.37px;"><span style="transform:scaleX(0.9980)"><i class=s>36th International Conference on Machine Learning, ICML</i>, pages 3551–3559, 2019.</span></div>
<div class="l r" style="left:2871.2px;top:1864.0px;"><span style="transform:scaleX(1.0089)">[4]</span></div>
<div class="l r" style="left:2909.2px;top:1864.0px;word-spacing:-0.83px;"><span style="transform:scaleX(0.9980)">Siamak Ravanbakhsh, Barnabás Póczos, and Russell Greiner. Boolean matrix factorization and noisy completion via message passing. In</span></div>
<div class="l r" style="left:2909.2px;top:1891.5px;word-spacing:-0.50px;"><span style="transform:scaleX(0.9980)"><i class=s>Proceedings of the 33nd International Conference on Machine Learning, ICML</i>, pages 945–954, 2016.</span></div>
<div class="l r" style="left:2871.2px;top:1929.5px;"><span style="transform:scaleX(1.0089)">[5]</span></div>
<div class="l r" style="left:2909.2px;top:1929.5px;word-spacing:0.31px;"><span style="transform:scaleX(0.9980)">Zhongyuan Zhang, Tao Li, Chris Ding, and Xiangsun Zhang. Binary matrix factorization with applications. In <i class=s>Seventh IEEE international</i></span></div>
<div class="l r" style="left:2909.2px;top:1956.6px;word-spacing:0.29px;"><span style="transform:scaleX(0.9980)"><i class=s>conference on data mining (ICDM 2007)</i>, pages 391–400. IEEE, 2007.</span></div>
</div>
</body></html>
